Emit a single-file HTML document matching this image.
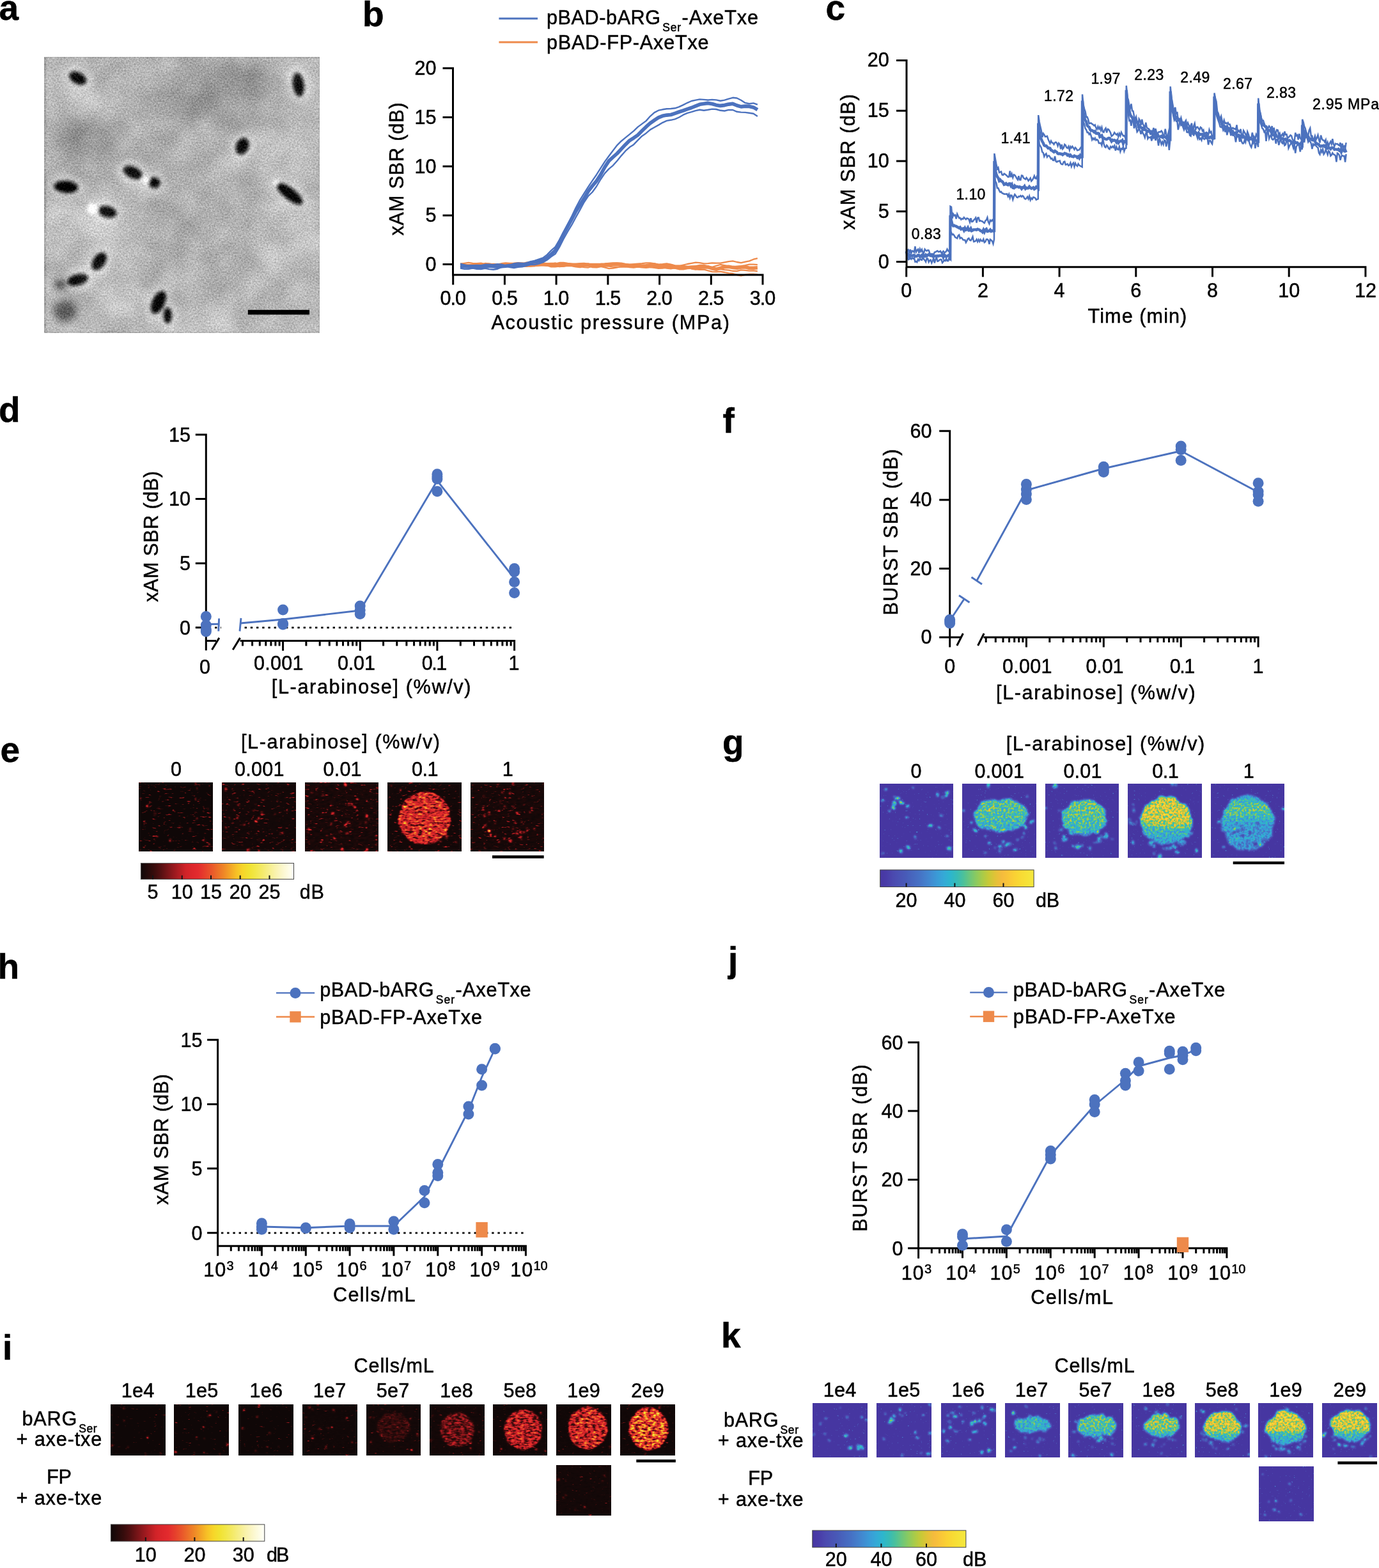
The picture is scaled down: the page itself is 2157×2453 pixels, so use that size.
<!DOCTYPE html>
<html><head><meta charset="utf-8"><title>Figure</title>
<style>html,body{margin:0;padding:0;background:#fff}svg{display:block}.t{stroke:#000;stroke-width:0.5px}</style>
</head><body>
<svg width="2157" height="2453" viewBox="0 0 2157 2453" font-family="'Liberation Sans', sans-serif" font-size="30.6" fill="#000">
<defs>
<filter id="fh" x="0" y="0" width="1" height="1" color-interpolation-filters="sRGB"><feTurbulence type="fractalNoise" baseFrequency="0.13 0.3" numOctaves="2" seed="1" result="n"/><feColorMatrix in="n" type="matrix" values="0 0 0 0 1 1.8 0 0 0 -0.5 0 0 0 0 0 0 0 0 0 1" result="nd"/><feColorMatrix in="n" type="matrix" values="0 0 0 0 0 0 0 0 0 0 0 3.2 0 0 -2.05 0 0 0 0 1" result="nb"/><feTurbulence type="fractalNoise" baseFrequency="0.07" numOctaves="2" seed="6" result="dn"/><feDisplacementMap in="SourceGraphic" in2="dn" scale="5" xChannelSelector="R" yChannelSelector="G" result="sd"/><feGaussianBlur in="sd" stdDeviation="1.0" result="s0"/><feColorMatrix in="s0" type="matrix" values="1 0 0 0 0 0 1 0 0 0 0 0 1 0 0 0 0 0 0 1" result="s"/><feBlend in="s" in2="nd" mode="multiply" result="p"/><feBlend in="p" in2="nb" mode="screen" result="c"/><feColorMatrix in="c" type="matrix" values="0.14 0.9 0.4 0 0.0 0.14 0.9 0.4 0 0.0 0.14 0.9 0.4 0 0.0 0 0 0 0 1" result="v"/><feComponentTransfer in="v"><feFuncR type="table" tableValues="0.06 0.116 0.172 0.229 0.318 0.414 0.511 0.604 0.695 0.786 0.849 0.871 0.891 0.899 0.907 0.916 0.925 0.934 0.945 0.958 0.97 0.976 0.959 0.941 0.947 0.955 0.963 0.969 0.975 0.981 0.988 0.994 1"/><feFuncG type="table" tableValues="0.03 0.036 0.042 0.049 0.06 0.072 0.085 0.099 0.115 0.131 0.144 0.153 0.169 0.228 0.287 0.355 0.43 0.505 0.584 0.668 0.752 0.827 0.863 0.899 0.907 0.915 0.925 0.938 0.95 0.962 0.975 0.988 1"/><feFuncB type="table" tableValues="0.03 0.036 0.042 0.049 0.065 0.084 0.102 0.119 0.135 0.151 0.164 0.172 0.179 0.175 0.172 0.166 0.16 0.154 0.15 0.15 0.15 0.154 0.177 0.199 0.286 0.376 0.469 0.566 0.662 0.755 0.83 0.905 0.98"/></feComponentTransfer></filter>
<filter id="fh2" x="0" y="0" width="1" height="1" color-interpolation-filters="sRGB"><feTurbulence type="fractalNoise" baseFrequency="0.15 0.32" numOctaves="2" seed="3" result="n"/><feColorMatrix in="n" type="matrix" values="0 0 0 0 1 1.8 0 0 0 -0.5 0 0 0 0 0 0 0 0 0 1" result="nd"/><feColorMatrix in="n" type="matrix" values="0 0 0 0 0 0 0 0 0 0 0 3.2 0 0 -2.25 0 0 0 0 1" result="nb"/><feTurbulence type="fractalNoise" baseFrequency="0.07" numOctaves="2" seed="8" result="dn"/><feDisplacementMap in="SourceGraphic" in2="dn" scale="4" xChannelSelector="R" yChannelSelector="G" result="sd"/><feGaussianBlur in="sd" stdDeviation="0.9" result="s0"/><feColorMatrix in="s0" type="matrix" values="1 0 0 0 0 0 1 0 0 0 0 0 1 0 0 0 0 0 0 1" result="s"/><feBlend in="s" in2="nd" mode="multiply" result="p"/><feBlend in="p" in2="nb" mode="screen" result="c"/><feColorMatrix in="c" type="matrix" values="0.14 0.9 0.36 0 0.0 0.14 0.9 0.36 0 0.0 0.14 0.9 0.36 0 0.0 0 0 0 0 1" result="v"/><feComponentTransfer in="v"><feFuncR type="table" tableValues="0.06 0.116 0.172 0.229 0.318 0.414 0.511 0.604 0.695 0.786 0.849 0.871 0.891 0.899 0.907 0.916 0.925 0.934 0.945 0.958 0.97 0.976 0.959 0.941 0.947 0.955 0.963 0.969 0.975 0.981 0.988 0.994 1"/><feFuncG type="table" tableValues="0.03 0.036 0.042 0.049 0.06 0.072 0.085 0.099 0.115 0.131 0.144 0.153 0.169 0.228 0.287 0.355 0.43 0.505 0.584 0.668 0.752 0.827 0.863 0.899 0.907 0.915 0.925 0.938 0.95 0.962 0.975 0.988 1"/><feFuncB type="table" tableValues="0.03 0.036 0.042 0.049 0.065 0.084 0.102 0.119 0.135 0.151 0.164 0.172 0.179 0.175 0.172 0.166 0.16 0.154 0.15 0.15 0.15 0.154 0.177 0.199 0.286 0.376 0.469 0.566 0.662 0.755 0.83 0.905 0.98"/></feComponentTransfer></filter>
<filter id="fp" x="0" y="0" width="1" height="1" color-interpolation-filters="sRGB"><feTurbulence type="fractalNoise" baseFrequency="0.3 0.3" numOctaves="2" seed="1" result="n"/><feColorMatrix in="n" type="matrix" values="0 0 0 0 1 3.0 0 0 0 -1.0 0 0 0 0 0 0 0 0 0 1" result="nd"/><feColorMatrix in="n" type="matrix" values="0 0 0 0 0 0 0 0 0 0 0 5 0 0 -3.6 0 0 0 0 1" result="nb"/><feTurbulence type="fractalNoise" baseFrequency="0.07" numOctaves="2" seed="6" result="dn"/><feDisplacementMap in="SourceGraphic" in2="dn" scale="10" xChannelSelector="R" yChannelSelector="G" result="sd"/><feGaussianBlur in="sd" stdDeviation="1.6" result="s0"/><feColorMatrix in="s0" type="matrix" values="1 0 0 0 0 0 1 0 0 0 0 0 1 0 0 0 0 0 0 1" result="s"/><feBlend in="s" in2="nd" mode="multiply" result="p"/><feBlend in="p" in2="nb" mode="screen" result="c"/><feColorMatrix in="c" type="matrix" values="0.72 0.5 0.4 0 0.0 0.72 0.5 0.4 0 0.0 0.72 0.5 0.4 0 0.0 0 0 0 0 1" result="v"/><feComponentTransfer in="v"><feFuncR type="table" tableValues="0.278 0.285 0.291 0.292 0.288 0.284 0.281 0.278 0.275 0.268 0.261 0.246 0.229 0.212 0.191 0.185 0.216 0.268 0.36 0.452 0.544 0.636 0.728 0.81 0.886 0.943 0.974 0.978 0.979 0.975 0.971 0.964 0.957"/><feFuncG type="table" tableValues="0.212 0.23 0.262 0.294 0.322 0.349 0.378 0.409 0.439 0.479 0.52 0.564 0.61 0.654 0.689 0.718 0.735 0.751 0.767 0.782 0.794 0.798 0.794 0.78 0.759 0.74 0.745 0.784 0.818 0.848 0.875 0.892 0.91"/><feFuncB type="table" tableValues="0.635 0.654 0.674 0.692 0.704 0.716 0.732 0.75 0.769 0.79 0.811 0.827 0.843 0.85 0.823 0.784 0.712 0.634 0.542 0.454 0.373 0.301 0.24 0.216 0.216 0.23 0.235 0.215 0.204 0.204 0.208 0.226 0.243"/></feComponentTransfer></filter>
<linearGradient id="gh1"><stop offset="0%" stop-color="#0f0808"/><stop offset="4.2%" stop-color="#220a0a"/><stop offset="8.3%" stop-color="#360c0c"/><stop offset="12.5%" stop-color="#510f11"/><stop offset="16.7%" stop-color="#721417"/><stop offset="20.8%" stop-color="#92181d"/><stop offset="25%" stop-color="#b11d22"/><stop offset="29.2%" stop-color="#d02328"/><stop offset="33.3%" stop-color="#dc262b"/><stop offset="37.5%" stop-color="#e32b2e"/><stop offset="41.7%" stop-color="#e63f2c"/><stop offset="45.8%" stop-color="#e9542b"/><stop offset="50%" stop-color="#ec6e29"/><stop offset="54.2%" stop-color="#ef8727"/><stop offset="58.3%" stop-color="#f3a326"/><stop offset="62.5%" stop-color="#f7c026"/><stop offset="66.7%" stop-color="#f7d629"/><stop offset="70.8%" stop-color="#f1e231"/><stop offset="75%" stop-color="#f2e749"/><stop offset="79.2%" stop-color="#f4ea68"/><stop offset="83.3%" stop-color="#f6ee88"/><stop offset="87.5%" stop-color="#f9f2a9"/><stop offset="91.7%" stop-color="#fbf6c7"/><stop offset="95.8%" stop-color="#fdfbe0"/><stop offset="100%" stop-color="#fffffa"/></linearGradient>
<linearGradient id="vg1" x1="0" y1="0" x2="0" y2="1"><stop offset="0" stop-color="#8c8c8c"/><stop offset="0.6" stop-color="#878787"/><stop offset="1" stop-color="#666666"/></linearGradient>
<linearGradient id="vg2" x1="0" y1="0" x2="0" y2="1"><stop offset="0" stop-color="#999999"/><stop offset="0.6" stop-color="#8c8c8c"/><stop offset="1" stop-color="#666666"/></linearGradient>
<linearGradient id="vg3" x1="0" y1="0" x2="0" y2="1"><stop offset="0" stop-color="#c2c2c2"/><stop offset="0.5" stop-color="#bdbdbd"/><stop offset="0.68" stop-color="#808080"/><stop offset="1" stop-color="#616161"/></linearGradient>
<linearGradient id="vg4" x1="0" y1="0" x2="0" y2="1"><stop offset="0" stop-color="#666666"/><stop offset="0.2" stop-color="#8f8f8f"/><stop offset="0.38" stop-color="#858585"/><stop offset="0.5" stop-color="#666666"/><stop offset="1" stop-color="#5c5c5c"/></linearGradient>
<linearGradient id="gp1"><stop offset="0%" stop-color="#4736a2"/><stop offset="4.2%" stop-color="#493ca8"/><stop offset="8.3%" stop-color="#4b49af"/><stop offset="12.5%" stop-color="#4a52b4"/><stop offset="16.7%" stop-color="#485bb8"/><stop offset="20.8%" stop-color="#4766be"/><stop offset="25%" stop-color="#4670c4"/><stop offset="29.2%" stop-color="#447ecb"/><stop offset="33.3%" stop-color="#408cd2"/><stop offset="37.5%" stop-color="#3a9cd7"/><stop offset="41.7%" stop-color="#34aad6"/><stop offset="45.8%" stop-color="#2db6cd"/><stop offset="50%" stop-color="#37bbb6"/><stop offset="54.2%" stop-color="#4cc19a"/><stop offset="58.3%" stop-color="#6cc67b"/><stop offset="62.5%" stop-color="#8bca5f"/><stop offset="66.7%" stop-color="#aacb48"/><stop offset="70.8%" stop-color="#c8c937"/><stop offset="75%" stop-color="#e2c237"/><stop offset="79.2%" stop-color="#f5bb3d"/><stop offset="83.3%" stop-color="#f9c538"/><stop offset="87.5%" stop-color="#fad134"/><stop offset="91.7%" stop-color="#f8db34"/><stop offset="95.8%" stop-color="#f6e238"/><stop offset="100%" stop-color="#f4e83e"/></linearGradient>
<linearGradient id="gh2"><stop offset="0%" stop-color="#0f0808"/><stop offset="4.2%" stop-color="#220a0a"/><stop offset="8.3%" stop-color="#360c0c"/><stop offset="12.5%" stop-color="#510f11"/><stop offset="16.7%" stop-color="#721417"/><stop offset="20.8%" stop-color="#92181d"/><stop offset="25%" stop-color="#b11d22"/><stop offset="29.2%" stop-color="#d02328"/><stop offset="33.3%" stop-color="#dc262b"/><stop offset="37.5%" stop-color="#e32b2e"/><stop offset="41.7%" stop-color="#e63f2c"/><stop offset="45.8%" stop-color="#e9542b"/><stop offset="50%" stop-color="#ec6e29"/><stop offset="54.2%" stop-color="#ef8727"/><stop offset="58.3%" stop-color="#f3a326"/><stop offset="62.5%" stop-color="#f7c026"/><stop offset="66.7%" stop-color="#f7d629"/><stop offset="70.8%" stop-color="#f1e231"/><stop offset="75%" stop-color="#f2e749"/><stop offset="79.2%" stop-color="#f4ea68"/><stop offset="83.3%" stop-color="#f6ee88"/><stop offset="87.5%" stop-color="#f9f2a9"/><stop offset="91.7%" stop-color="#fbf6c7"/><stop offset="95.8%" stop-color="#fdfbe0"/><stop offset="100%" stop-color="#fffffa"/></linearGradient>
<linearGradient id="kg4" x1="0" y1="0" x2="0" y2="1"><stop offset="0" stop-color="#808080"/><stop offset="1" stop-color="#6b6b6b"/></linearGradient>
<linearGradient id="kg5" x1="0" y1="0" x2="0" y2="1"><stop offset="0" stop-color="#949494"/><stop offset="0.6" stop-color="#8c8c8c"/><stop offset="1" stop-color="#666666"/></linearGradient>
<linearGradient id="kg6" x1="0" y1="0" x2="0" y2="1"><stop offset="0" stop-color="#a8a8a8"/><stop offset="0.6" stop-color="#9e9e9e"/><stop offset="1" stop-color="#6b6b6b"/></linearGradient>
<linearGradient id="kg7" x1="0" y1="0" x2="0" y2="1"><stop offset="0" stop-color="#c2c2c2"/><stop offset="0.55" stop-color="#b8b8b8"/><stop offset="0.8" stop-color="#858585"/><stop offset="1" stop-color="#666666"/></linearGradient>
<linearGradient id="kg8" x1="0" y1="0" x2="0" y2="1"><stop offset="0" stop-color="#cccccc"/><stop offset="0.5" stop-color="#c4c4c4"/><stop offset="0.68" stop-color="#808080"/><stop offset="1" stop-color="#666666"/></linearGradient>
<linearGradient id="kg9" x1="0" y1="0" x2="0" y2="1"><stop offset="0" stop-color="#c7c7c7"/><stop offset="0.55" stop-color="#bfbfbf"/><stop offset="0.75" stop-color="#808080"/><stop offset="1" stop-color="#666666"/></linearGradient>
<linearGradient id="gp2"><stop offset="0%" stop-color="#4736a2"/><stop offset="4.2%" stop-color="#493ca8"/><stop offset="8.3%" stop-color="#4b49af"/><stop offset="12.5%" stop-color="#4a52b4"/><stop offset="16.7%" stop-color="#485bb8"/><stop offset="20.8%" stop-color="#4766be"/><stop offset="25%" stop-color="#4670c4"/><stop offset="29.2%" stop-color="#447ecb"/><stop offset="33.3%" stop-color="#408cd2"/><stop offset="37.5%" stop-color="#3a9cd7"/><stop offset="41.7%" stop-color="#34aad6"/><stop offset="45.8%" stop-color="#2db6cd"/><stop offset="50%" stop-color="#37bbb6"/><stop offset="54.2%" stop-color="#4cc19a"/><stop offset="58.3%" stop-color="#6cc67b"/><stop offset="62.5%" stop-color="#8bca5f"/><stop offset="66.7%" stop-color="#aacb48"/><stop offset="70.8%" stop-color="#c8c937"/><stop offset="75%" stop-color="#e2c237"/><stop offset="79.2%" stop-color="#f5bb3d"/><stop offset="83.3%" stop-color="#f9c538"/><stop offset="87.5%" stop-color="#fad134"/><stop offset="91.7%" stop-color="#f8db34"/><stop offset="95.8%" stop-color="#f6e238"/><stop offset="100%" stop-color="#f4e83e"/></linearGradient>
<filter id="fa" x="0" y="0" width="1" height="1" color-interpolation-filters="sRGB"><feTurbulence type="fractalNoise" baseFrequency="0.4" numOctaves="2" seed="7" result="n"/><feColorMatrix in="n" type="matrix" values="0.38 0 0 0 0 0.38 0 0 0 0 0.38 0 0 0 0 0 0 0 0 1" result="n1"/><feComposite in="SourceGraphic" in2="n1" operator="arithmetic" k1="0" k2="1" k3="1" k4="-0.19" result="a1"/><feTurbulence type="fractalNoise" baseFrequency="0.022" numOctaves="2" seed="11" result="m"/><feColorMatrix in="m" type="matrix" values="0.2 0 0 0 0 0.2 0 0 0 0 0.2 0 0 0 0 0 0 0 0 1" result="m1"/><feComposite in="a1" in2="m1" operator="arithmetic" k1="0" k2="1" k3="1" k4="-0.1"/></filter>
<filter id="fb1" x="-0.2" y="-0.2" width="1.4" height="1.4"><feGaussianBlur stdDeviation="16"/></filter>
<filter id="fb2" x="-0.2" y="-0.2" width="1.4" height="1.4"><feGaussianBlur stdDeviation="6"/></filter>
<filter id="fb3" x="-0.2" y="-0.2" width="1.4" height="1.4"><feGaussianBlur stdDeviation="2.9"/></filter>
<clipPath id="ca"><rect x="69.4" y="89.4" width="430.6" height="430.9"/></clipPath>
</defs>
<rect width="2157" height="2453" fill="#fff"/>
<text x="-1.5" y="31" font-weight="bold" font-size="55" class="t">a</text>
<text x="567" y="41" font-weight="bold" font-size="55" class="t">b</text>
<text x="1291.5" y="31.3" font-weight="bold" font-size="55" class="t">c</text>
<text x="-2" y="660" font-weight="bold" font-size="55" class="t">d</text>
<text x="0.5" y="1192" font-weight="bold" font-size="55" class="t">e</text>
<text x="1130.5" y="677" font-weight="bold" font-size="55" class="t">f</text>
<text x="1130" y="1180" font-weight="bold" font-size="55" class="t">g</text>
<text x="-3.5" y="1531.4" font-weight="bold" font-size="55" class="t">h</text>
<text x="4" y="2127" font-weight="bold" font-size="55" class="t">i</text>
<text x="1139" y="1520" font-weight="bold" font-size="55" class="t">j</text>
<text x="1128" y="2108" font-weight="bold" font-size="55" class="t">k</text>
<path d="M720,412.7 726.5,411.8 732.9,410.8 739.4,411.9 745.8,412.1 752.3,411.6 758.7,413.2 765.2,413.7 771.7,412.9 778.1,413.5 784.6,414.1 791,413.5 797.5,412.7 803.9,412.9 810.4,414.2 816.9,413.4 823.3,410.6 829.8,410.7 836.2,412.5 842.7,412.8 849.2,413.3 855.6,414 862.1,413.6 868.5,412.5 875,411 881.4,410.9 887.9,412 894.4,412.6 900.8,412.6 907.3,412.1 913.7,412 920.2,412.8 926.6,412.9 933.1,412.8 939.6,412.7 946,412.4 952.5,411.8 958.9,411.5 965.4,411.5 971.8,411.6 978.3,412.8 984.8,413.7 991.2,413.1 997.7,412.6 1004.1,412.1 1010.6,411.3 1017.1,411.3 1023.5,412.5 1030,413.6 1036.4,413.2 1042.9,412.3 1049.3,413.7 1055.8,415.7 1062.3,416 1068.7,414.5 1075.2,413 1081.6,411.9 1088.1,410.7 1094.5,411.1 1101,412.4 1107.5,412.2 1113.9,411.3 1120.4,411.6 1126.8,411.7 1133.3,410.4 1139.7,409.1 1146.2,408.4 1152.7,410 1159.1,411.1 1165.6,409.7 1172,408.4 1178.5,405.7 1184.9,404.1" fill="none" stroke="#ee8a4b" stroke-width="2.3" stroke-linejoin="round"/>
<path d="M720,417.2 726.5,416.6 732.9,417.1 739.4,419.2 745.8,419.6 752.3,416.9 758.7,416.3 765.2,417.2 771.7,416.4 778.1,415.3 784.6,414.3 791,415.2 797.5,416.4 803.9,415.8 810.4,416.1 816.9,416.7 823.3,416.8 829.8,416.6 836.2,415.8 842.7,415.5 849.2,415.1 855.6,415.4 862.1,417.4 868.5,417.4 875,416.7 881.4,416.7 887.9,415.5 894.4,415.5 900.8,416.5 907.3,416.9 913.7,418.2 920.2,418.5 926.6,416.6 933.1,415.9 939.6,416.8 946,418.5 952.5,420.1 958.9,419.7 965.4,418.4 971.8,417 978.3,416.5 984.8,418.1 991.2,418.5 997.7,417.5 1004.1,418.4 1010.6,418.9 1017.1,418.1 1023.5,418.8 1030,419.8 1036.4,419.6 1042.9,418.3 1049.3,417.8 1055.8,418.7 1062.3,419.3 1068.7,418.9 1075.2,417.6 1081.6,418.8 1088.1,421.4 1094.5,421.8 1101,421.7 1107.5,423.3 1113.9,425.1 1120.4,425.3 1126.8,424.9 1133.3,426 1139.7,427.4 1146.2,428 1152.7,430 1159.1,431.3 1165.6,429.8 1172,428.8 1178.5,429 1184.9,429.6" fill="none" stroke="#ee8a4b" stroke-width="2.3" stroke-linejoin="round"/>
<path d="M720,412.8 726.5,413.8 732.9,414.2 739.4,414.1 745.8,414.7 752.3,414.5 758.7,414.9 765.2,415.3 771.7,413.6 778.1,413.2 784.6,414.3 791,414.1 797.5,413.6 803.9,413.9 810.4,414.9 816.9,415 823.3,413.8 829.8,413.1 836.2,414.1 842.7,414.2 849.2,412.6 855.6,412.7 862.1,412.8 868.5,411.7 875,413.3 881.4,415.2 887.9,415.9 894.4,415.6 900.8,414 907.3,414.1 913.7,414.3 920.2,414 926.6,414.8 933.1,415.3 939.6,416.2 946,416.4 952.5,415 958.9,412.5 965.4,412 971.8,413.4 978.3,413.9 984.8,414 991.2,414.5 997.7,415.9 1004.1,417.7 1010.6,417.2 1017.1,414.2 1023.5,412.3 1030,413.8 1036.4,414.5 1042.9,413.5 1049.3,414.2 1055.8,415.3 1062.3,415.6 1068.7,416 1075.2,416.9 1081.6,417.1 1088.1,416.1 1094.5,415 1101,414.8 1107.5,416.5 1113.9,417.8 1120.4,415.8 1126.8,414 1133.3,415.2 1139.7,416.8 1146.2,417.1 1152.7,416.6 1159.1,416.1 1165.6,415.1 1172,413.6 1178.5,413.7 1184.9,414.1" fill="none" stroke="#ee8a4b" stroke-width="2.3" stroke-linejoin="round"/>
<path d="M720,415.6 726.5,416 732.9,418.2 739.4,419.6 745.8,417.9 752.3,413.9 758.7,412 765.2,412.5 771.7,413.6 778.1,415.2 784.6,415.6 791,415.1 797.5,416.3 803.9,417.2 810.4,416.9 816.9,416.3 823.3,415.4 829.8,415.5 836.2,416 842.7,415.2 849.2,414.7 855.6,415.6 862.1,415.8 868.5,416 875,417.2 881.4,416.7 887.9,414.8 894.4,414.2 900.8,415.4 907.3,415.7 913.7,414.9 920.2,415.5 926.6,416.1 933.1,416 939.6,416.4 946,416.6 952.5,416.7 958.9,417.6 965.4,417.7 971.8,417.6 978.3,417.7 984.8,417 991.2,416.5 997.7,416.7 1004.1,416.7 1010.6,415.6 1017.1,414.5 1023.5,416.7 1030,419.2 1036.4,418.6 1042.9,419.6 1049.3,420.3 1055.8,419.2 1062.3,418.5 1068.7,417.1 1075.2,417.7 1081.6,420.5 1088.1,421.5 1094.5,420 1101,419.1 1107.5,419.3 1113.9,419.2 1120.4,419.8 1126.8,421.1 1133.3,422.1 1139.7,422.6 1146.2,424 1152.7,424.2 1159.1,422.3 1165.6,422.9 1172,423.7 1178.5,423.3 1184.9,424.3" fill="none" stroke="#ee8a4b" stroke-width="2.3" stroke-linejoin="round"/>
<path d="M720,415.2 726.5,415.8 732.9,416 739.4,415.6 745.8,415.5 752.3,416.1 758.7,416.5 765.2,416 771.7,415.5 778.1,415.2 784.6,413.9 791,413.1 797.5,413.6 803.9,413.3 810.4,412.8 816.9,413 823.3,413.6 829.8,414.7 836.2,414.5 842.7,413.3 849.2,413.4 855.6,413.8 862.1,413.5 868.5,413.5 875,414 881.4,414.5 887.9,414.4 894.4,414.5 900.8,415.7 907.3,416.5 913.7,414.7 920.2,414 926.6,416.4 933.1,416.8 939.6,415.4 946,414.5 952.5,413.8 958.9,413.5 965.4,413.3 971.8,414 978.3,415.4 984.8,415.9 991.2,415.8 997.7,415.6 1004.1,416.1 1010.6,415.8 1017.1,414.7 1023.5,415.4 1030,416.1 1036.4,416.1 1042.9,417 1049.3,417.5 1055.8,418.1 1062.3,419.6 1068.7,419.8 1075.2,418.5 1081.6,418.1 1088.1,418 1094.5,417.7 1101,417.6 1107.5,417.8 1113.9,419.9 1120.4,421.2 1126.8,419.4 1133.3,417.6 1139.7,417.3 1146.2,418.4 1152.7,419.2 1159.1,418 1165.6,417.7 1172,419.2 1178.5,419.3 1184.9,418.9" fill="none" stroke="#ee8a4b" stroke-width="5.6" stroke-linejoin="round"/>
<path d="M720,412.7 726.5,414.3 732.9,415.7 739.4,415.2 745.8,415 752.3,415.2 758.7,413.8 765.2,413.7 771.7,414.2 778.1,413.2 784.6,413.6 791,415.4 797.5,414.9 803.9,412.4 810.4,411.4 816.9,411.9 823.3,411.7 829.8,410.2 836.2,408 842.7,405.6 849.2,403.5 855.6,398.6 862.1,391.9 868.5,386.3 875,375.4 881.4,363.4 887.9,350.9 894.4,338.3 900.8,324.7 907.3,312.6 913.7,302.4 920.2,292.2 926.6,282.7 933.1,273.2 939.6,262.9 946,252.9 952.5,244 958.9,235.6 965.4,227.1 971.8,220.7 978.3,215.4 984.8,210.1 991.2,204.8 997.7,198.6 1004.1,193.9 1010.6,189.1 1017.1,181.8 1023.5,176.1 1030,172.7 1036.4,171.3 1042.9,170.2 1049.3,170 1055.8,169.3 1062.3,167.2 1068.7,164.1 1075.2,160.8 1081.6,158 1088.1,156.6 1094.5,155.4 1101,155.9 1107.5,156.5 1113.9,155.9 1120.4,156.4 1126.8,157.7 1133.3,156.6 1139.7,154.6 1146.2,152.8 1152.7,153.5 1159.1,156.7 1165.6,160.9 1172,162.2 1178.5,161.4 1184.9,163.7" fill="none" stroke="#4c72be" stroke-width="2.4" stroke-linejoin="round"/>
<path d="M720,419.6 726.5,420.7 732.9,420.7 739.4,419.6 745.8,420.8 752.3,421 758.7,419.9 765.2,421.1 771.7,421.8 778.1,420.7 784.6,418 791,416.3 797.5,418 803.9,419.1 810.4,417.9 816.9,417.3 823.3,415.9 829.8,414.1 836.2,414 842.7,412.6 849.2,410.4 855.6,406.7 862.1,401.5 868.5,397.3 875,386.6 881.4,373.9 887.9,362.4 894.4,351.7 900.8,339.8 907.3,328.2 913.7,316.3 920.2,306.7 926.6,300.5 933.1,291.5 939.6,280.5 946,271.1 952.5,264.1 958.9,258.8 965.4,251.5 971.8,243.6 978.3,236.2 984.8,230.3 991.2,226.2 997.7,219.4 1004.1,212.9 1010.6,208.4 1017.1,202.9 1023.5,199.2 1030,195.6 1036.4,191.8 1042.9,188.9 1049.3,187.8 1055.8,186.3 1062.3,183.5 1068.7,179.7 1075.2,176.8 1081.6,175.2 1088.1,173.1 1094.5,171.8 1101,172.8 1107.5,171.8 1113.9,170.6 1120.4,171 1126.8,172.8 1133.3,173.5 1139.7,171.9 1146.2,172 1152.7,174.8 1159.1,175.6 1165.6,175.9 1172,176.7 1178.5,177.7 1184.9,181.9" fill="none" stroke="#4c72be" stroke-width="2.4" stroke-linejoin="round"/>
<path d="M720,416.4 726.5,416.6 732.9,417 739.4,416.7 745.8,417.3 752.3,418.3 758.7,417.5 765.2,416.3 771.7,416.6 778.1,417.2 784.6,416.7 791,416.2 797.5,415.5 803.9,415.3 810.4,415.3 816.9,414.5 823.3,413 829.8,410.8 836.2,409.7 842.7,408.8 849.2,407 855.6,403.3 862.1,397.8 868.5,392 875,379.5 881.4,366.2 887.9,354.3 894.4,342.6 900.8,330.5 907.3,320.5 913.7,310.3 920.2,299.1 926.6,290.8 933.1,283.1 939.6,273.1 946,261.5 952.5,251.6 958.9,245.8 965.4,240 971.8,233.1 978.3,226.2 984.8,219.8 991.2,215.8 997.7,211.2 1004.1,204.8 1010.6,198.4 1017.1,192.6 1023.5,188.1 1030,183.9 1036.4,181.3 1042.9,180.1 1049.3,179.5 1055.8,177.3 1062.3,175 1068.7,173 1075.2,170.7 1081.6,168.5 1088.1,165.8 1094.5,163.3 1101,162.2 1107.5,161.4 1113.9,162.5 1120.4,164.4 1126.8,165.4 1133.3,164.6 1139.7,163.1 1146.2,162.3 1152.7,165 1159.1,166.9 1165.6,166.1 1172,166.4 1178.5,167.9 1184.9,171.6" fill="none" stroke="#4c72be" stroke-width="5.6" stroke-linejoin="round"/>
<path d="M708.5,105.3V430M692.5,106.8H708.5M692.5,183.5H708.5M692.5,260.2H708.5M692.5,336.9H708.5M692.5,413.6H708.5M707,430H1194.5M708.7,430V445.5M789.4,430V445.5M870.1,430V445.5M950.9,430V445.5M1031.6,430V445.5M1112.3,430V445.5M1193,430V445.5" fill="none" stroke="#000" stroke-width="3"/>
<text x="682.5" y="117.1" text-anchor="end" class="t">20</text>
<text x="682.5" y="193.8" text-anchor="end" class="t">15</text>
<text x="682.5" y="270.5" text-anchor="end" class="t">10</text>
<text x="682.5" y="347.2" text-anchor="end" class="t">5</text>
<text x="682.5" y="423.9" text-anchor="end" class="t">0</text>
<text x="708.7" y="477" text-anchor="middle" textLength="40.5" lengthAdjust="spacing" class="t">0.0</text>
<text x="789.4" y="477" text-anchor="middle" textLength="40.5" lengthAdjust="spacing" class="t">0.5</text>
<text x="870.1" y="477" text-anchor="middle" textLength="40.5" lengthAdjust="spacing" class="t">1.0</text>
<text x="950.9" y="477" text-anchor="middle" textLength="40.5" lengthAdjust="spacing" class="t">1.5</text>
<text x="1031.6" y="477" text-anchor="middle" textLength="40.5" lengthAdjust="spacing" class="t">2.0</text>
<text x="1112.3" y="477" text-anchor="middle" textLength="40.5" lengthAdjust="spacing" class="t">2.5</text>
<text x="1193" y="477" text-anchor="middle" textLength="40.5" lengthAdjust="spacing" class="t">3.0</text>
<text x="768.4" y="514.8" textLength="372.6" lengthAdjust="spacing" class="t">Acoustic pressure (MPa)</text>
<text class="t" transform="translate(631.3 368.6) rotate(-90)" textLength="208.3" lengthAdjust="spacing">xAM SBR (dB)</text>
<line x1="780.4" y1="28.9" x2="841" y2="28.9" stroke="#4c72be" stroke-width="3"/>
<line x1="780.4" y1="65.9" x2="841" y2="65.9" stroke="#ee8a4b" stroke-width="3"/>
<text x="855" y="37.8" textLength="178.1" lengthAdjust="spacing" class="t">pBAD-bARG</text>
<text x="1036.2" y="49" font-size="17.5" textLength="29" lengthAdjust="spacing" class="t">Ser</text>
<text x="1066.5" y="37.8" textLength="119.5" lengthAdjust="spacing" class="t">-AxeTxe</text>
<text x="855" y="76.8" textLength="253.6" lengthAdjust="spacing" class="t">pBAD-FP-AxeTxe</text>
<path d="M1417.7,389 1419.2,392.1 1420.7,390.8 1422.3,396.3 1423.8,390.4 1425.3,396.3 1426.8,392.5 1428.4,392.9 1429.9,394.7 1431.4,385.5 1432.9,394.3 1434.4,391.6 1436,390 1437.5,395.9 1439,389.5 1440.5,393.2 1442,390.3 1443.6,395.2 1445.1,395.5 1446.6,389.9 1448.1,391.7 1449.7,392.6 1451.2,391.3 1452.7,391.6 1454.2,395.9 1455.7,398.6 1457.3,397.2 1458.8,397.5 1460.3,398.6 1461.8,394.6 1463.4,394.3 1464.9,393.1 1466.4,392.5 1467.9,394 1469.4,393.7 1471,392.8 1472.5,395.6 1474,394.8 1475.5,393 1477.1,394.8 1478.6,394.5 1480.1,393.3 1481.6,389.7 1483.1,392.2 1484.7,393.9 1486.2,394.5 1486.5,322.9 1488,323.8 1489.6,341.7 1491.1,334.8 1492.6,337.1 1494.1,336.5 1495.7,342.3 1497.2,334.7 1498.7,338 1500.2,341.1 1501.7,340.9 1503.3,343.5 1504.8,341.9 1506.3,342.6 1507.8,340.1 1509.4,341.9 1510.9,343.2 1512.4,341.5 1513.9,341.9 1515.4,342.9 1517,347.5 1518.5,341.2 1520,346.8 1521.5,346.6 1523.1,344.4 1524.6,342.9 1526.1,340.7 1527.6,348.6 1529.1,340.7 1530.7,340.4 1532.2,345.7 1533.7,345.1 1535.2,346.1 1536.7,346.2 1538.3,348.1 1539.8,349 1541.3,345.3 1542.8,344.2 1544.4,340.2 1545.9,347.4 1547.4,350.2 1548.9,344.5 1550.4,346.1 1552,344.1 1553.5,346 1555,348.2 1555.4,240.1 1556.9,248.9 1558.4,257 1559.9,264.2 1561.4,262.2 1563,269.9 1564.5,269.1 1566,268.4 1567.5,273.4 1569.1,273.9 1570.6,271.7 1572.1,272.6 1573.6,273.7 1575.1,275.1 1576.7,277 1578.2,276.7 1579.7,267.5 1581.2,277.2 1582.7,272.2 1584.3,277.8 1585.8,273.2 1587.3,273.9 1588.8,276.1 1590.4,279.1 1591.9,281.2 1593.4,275.4 1594.9,281.3 1596.4,281.4 1598,274.5 1599.5,274.8 1601,278.5 1602.5,279.4 1604.1,280.5 1605.6,278.1 1607.1,280.2 1608.6,282.9 1610.1,281.1 1611.7,278.6 1613.2,283.3 1614.7,281.8 1616.2,279.1 1617.8,275.2 1619.3,279 1620.8,279.4 1622.3,274.7 1623.8,282.3 1624.2,180.1 1625.7,190.7 1627.2,197.9 1628.7,204.1 1630.3,215 1631.8,208.8 1633.3,210.7 1634.8,213.8 1636.4,213.6 1637.9,213 1639.4,217.5 1640.9,221.1 1642.4,224.3 1644,220.5 1645.5,223.3 1647,223.7 1648.5,225.9 1650.1,223 1651.6,222.5 1653.1,223.9 1654.6,228.4 1656.1,223.9 1657.7,225.8 1659.2,233.3 1660.7,226 1662.2,233.1 1663.8,231.2 1665.3,226 1666.8,227.3 1668.3,230.9 1669.8,231.8 1671.4,229 1672.9,234.7 1674.4,229.3 1675.9,231.3 1677.4,229 1679,231.3 1680.5,233.9 1682,230.9 1683.5,232.4 1685.1,235.3 1686.6,234.8 1688.1,234.5 1689.6,232 1691.1,230.3 1692.7,232.4 1693,147.5 1694.5,163.6 1696.1,170.3 1697.6,174.5 1699.1,183.3 1700.6,183 1702.1,186.9 1703.7,193.3 1705.2,192.8 1706.7,192.5 1708.2,193.9 1709.8,194.9 1711.3,196.6 1712.8,195.3 1714.3,199.8 1715.8,202.4 1717.4,198 1718.9,201.7 1720.4,199 1721.9,203.9 1723.4,199.2 1725,206.3 1726.5,206.9 1728,202.7 1729.5,200.5 1731.1,207.5 1732.6,202 1734.1,202.6 1735.6,204.9 1737.1,207.8 1738.7,213.1 1740.2,211.9 1741.7,210.3 1743.2,207.3 1744.8,209.4 1746.3,210.8 1747.8,209.2 1749.3,213.8 1750.8,208.9 1752.4,212.5 1753.9,207 1755.4,210 1756.9,212.5 1758.4,212.1 1760,215 1761.5,210.6 1761.8,133.9 1763.4,152.3 1764.9,156.3 1766.4,165.7 1767.9,169.1 1769.4,162.5 1771,173.5 1772.5,173.8 1774,181.8 1775.5,187.7 1777.1,183.1 1778.6,190.8 1780.1,200.5 1781.6,186 1783.1,188.5 1784.7,196 1786.2,186.8 1787.7,194 1789.2,196.8 1790.8,200 1792.3,191.7 1793.8,199.7 1795.3,200.8 1796.8,201.5 1798.4,203.7 1799.9,208.5 1801.4,205 1802.9,206.4 1804.4,200 1806,209.5 1807.5,201.3 1809,207.2 1810.5,209 1812.1,206.7 1813.6,206.3 1815.1,206.4 1816.6,204.8 1818.1,206.8 1819.7,215 1821.2,211.6 1822.7,201.7 1824.2,209.7 1825.8,219.9 1827.3,209.1 1828.8,202.6 1830.3,205.2 1830.7,135.3 1832.2,152 1833.7,159.6 1835.2,168.9 1836.8,174.3 1838.3,167.8 1839.8,179.2 1841.3,175 1842.8,188.3 1844.4,186.5 1845.9,189.8 1847.4,184.4 1848.9,190.5 1850.4,191.9 1852,194.4 1853.5,190.9 1855,188.4 1856.5,196.5 1858.1,192.2 1859.6,196 1861.1,199.6 1862.6,196.3 1864.1,192.8 1865.7,211 1867.2,197.2 1868.7,193.2 1870.2,202.5 1871.8,199 1873.3,198.7 1874.8,201.3 1876.3,203.1 1877.8,199 1879.4,200.3 1880.9,204.9 1882.4,203.3 1883.9,210.7 1885.5,207.8 1887,206.9 1888.5,208.1 1890,211.2 1891.5,203 1893.1,207.4 1894.6,206 1896.1,215.3 1897.6,212.1 1899.1,213.1 1899.5,145.5 1901,153.9 1902.5,158.8 1904.1,174.4 1905.6,177.2 1907.1,182.5 1908.6,186.3 1910.1,182 1911.7,189.5 1913.2,193.9 1914.7,188.1 1916.2,193.1 1917.8,192.3 1919.3,193.7 1920.8,192 1922.3,194.8 1923.8,194.6 1925.4,200.1 1926.9,201.2 1928.4,200 1929.9,201.5 1931.5,201.3 1933,202.7 1934.5,195.5 1936,206.7 1937.5,204.4 1939.1,206.6 1940.6,202 1942.1,211.8 1943.6,214.5 1945.1,204.3 1946.7,206.9 1948.2,209.8 1949.7,214.5 1951.2,206 1952.8,210.1 1954.3,215.1 1955.8,215 1957.3,216.1 1958.8,207.4 1960.4,214.7 1961.9,218.8 1963.4,217.2 1964.9,210 1966.5,212.4 1968,218.5 1968.3,153.5 1969.8,171.9 1971.4,176.4 1972.9,184.5 1974.4,188.6 1975.9,188.6 1977.5,193.3 1979,197.4 1980.5,200.3 1982,199.8 1983.5,200.2 1985.1,197.2 1986.6,199.2 1988.1,204.5 1989.6,197.1 1991.1,208.3 1992.7,199.7 1994.2,210.1 1995.7,207.3 1997.2,203.1 1998.8,203.7 2000.3,212.1 2001.8,208.8 2003.3,214.7 2004.8,211.4 2006.4,209.2 2007.9,214.1 2009.4,205.7 2010.9,210.6 2012.5,210.3 2014,216.3 2015.5,214.9 2017,213.4 2018.5,211.4 2020.1,212.5 2021.6,217.8 2023.1,220 2024.6,221.9 2026.2,207.6 2027.7,212.3 2029.2,211.2 2030.7,218.6 2032.2,209.2 2033.8,216.2 2035.3,217.6 2036.8,221.2 2037.1,186.8 2038.7,191.2 2040.2,197.9 2041.7,201 2043.2,209 2044.8,213.6 2046.3,211.2 2047.8,203.7 2049.3,200.5 2050.8,212.9 2052.4,212.6 2053.9,219.1 2055.4,217.7 2056.9,212.7 2058.5,218.5 2060,215.5 2061.5,211.3 2063,218.3 2064.5,223.3 2066.1,211.6 2067.6,216.9 2069.1,219.3 2070.6,219.4 2072.2,222.3 2073.7,218.9 2075.2,228.6 2076.7,223 2078.2,228.6 2079.8,224.1 2081.3,221.4 2082.8,225.4 2084.3,217.3 2085.8,225.5 2087.4,228.7 2088.9,224.6 2090.4,225.3 2091.9,225.1 2093.5,226.7 2095,227.6 2096.5,223.2 2098,234.8 2099.5,224.5 2101.1,230.6 2102.6,228.7 2104.1,232.4 2105.6,223.1" fill="none" stroke="#4c72be" stroke-width="2.5" stroke-linejoin="miter"/>
<path d="M1417.7,405.9 1419.2,403.5 1420.7,406.1 1422.3,405.2 1423.8,403.2 1425.3,405.3 1426.8,403.4 1428.4,404.6 1429.9,403.1 1431.4,409.5 1432.9,408.9 1434.4,410.1 1436,405.6 1437.5,407.6 1439,404.7 1440.5,406.3 1442,406.7 1443.6,401.7 1445.1,405.6 1446.6,407.2 1448.1,409.6 1449.7,404.1 1451.2,404.7 1452.7,409.9 1454.2,407.5 1455.7,406.6 1457.3,411.3 1458.8,407.9 1460.3,403.7 1461.8,411.3 1463.4,406 1464.9,402.4 1466.4,408.8 1467.9,408.4 1469.4,406.7 1471,405.9 1472.5,406.2 1474,411 1475.5,409.2 1477.1,407 1478.6,408 1480.1,404.4 1481.6,408 1483.1,408.2 1484.7,402.6 1486.2,407.4 1486.5,361 1488,363.7 1489.6,367.2 1491.1,366.6 1492.6,368.4 1494.1,371.2 1495.7,372 1497.2,372.9 1498.7,368.7 1500.2,367.4 1501.7,373 1503.3,371.8 1504.8,372.6 1506.3,375.1 1507.8,375.4 1509.4,375.5 1510.9,379.3 1512.4,376.6 1513.9,373.7 1515.4,372.7 1517,375.7 1518.5,376.2 1520,373.8 1521.5,370.3 1523.1,378 1524.6,377.7 1526.1,376.9 1527.6,374.5 1529.1,378.1 1530.7,374.8 1532.2,377.9 1533.7,374.7 1535.2,377 1536.7,377.3 1538.3,374.2 1539.8,379.3 1541.3,378.3 1542.8,374.5 1544.4,374.4 1545.9,375.9 1547.4,381.9 1548.9,374.6 1550.4,375.6 1552,377.3 1553.5,381.4 1555,374.4 1555.4,272.3 1556.9,283.6 1558.4,286.3 1559.9,294.3 1561.4,294.3 1563,298.1 1564.5,300.6 1566,299.8 1567.5,302.2 1569.1,302.7 1570.6,303.6 1572.1,303.4 1573.6,303.8 1575.1,303.3 1576.7,307.3 1578.2,303.9 1579.7,309.7 1581.2,305.4 1582.7,305.8 1584.3,312.2 1585.8,307.5 1587.3,304.2 1588.8,306 1590.4,308.7 1591.9,309 1593.4,307.1 1594.9,307.6 1596.4,306.1 1598,307.9 1599.5,306.2 1601,307.6 1602.5,310.6 1604.1,311.4 1605.6,310.2 1607.1,307.9 1608.6,311.2 1610.1,306.9 1611.7,313.1 1613.2,309.9 1614.7,311.6 1616.2,308.5 1617.8,309 1619.3,309.8 1620.8,312.6 1622.3,311.7 1623.8,311.2 1624.2,212.5 1625.7,225.8 1627.2,228.4 1628.7,230.9 1630.3,237.8 1631.8,239 1633.3,244.9 1634.8,241.8 1636.4,240.3 1637.9,245.7 1639.4,243.6 1640.9,243.5 1642.4,245.6 1644,248.5 1645.5,247.7 1647,250.8 1648.5,250.9 1650.1,244.5 1651.6,252.5 1653.1,253.5 1654.6,252 1656.1,252.2 1657.7,251.5 1659.2,255.8 1660.7,257 1662.2,257.2 1663.8,253.2 1665.3,252.7 1666.8,257.7 1668.3,257.4 1669.8,256.5 1671.4,259.1 1672.9,258.2 1674.4,254.8 1675.9,260.5 1677.4,256.7 1679,254.8 1680.5,260.7 1682,255.4 1683.5,258.3 1685.1,259.8 1686.6,256.4 1688.1,258.6 1689.6,259.5 1691.1,260.4 1692.7,261.2 1693,180.6 1694.5,190.5 1696.1,194.4 1697.6,201.2 1699.1,202.9 1700.6,207.1 1702.1,207 1703.7,210.2 1705.2,208.5 1706.7,212.5 1708.2,218.8 1709.8,216.3 1711.3,218.3 1712.8,215.9 1714.3,219.4 1715.8,218.3 1717.4,219.5 1718.9,223.9 1720.4,223.9 1721.9,223.7 1723.4,227.3 1725,216.7 1726.5,224.6 1728,229.7 1729.5,230.6 1731.1,227.2 1732.6,229 1734.1,232.4 1735.6,233.3 1737.1,229.3 1738.7,230.9 1740.2,229 1741.7,230.7 1743.2,227.9 1744.8,235.6 1746.3,229.7 1747.8,233.5 1749.3,234.1 1750.8,229.5 1752.4,237 1753.9,232.5 1755.4,233.4 1756.9,229.6 1758.4,236.5 1760,232.1 1761.5,231.9 1761.8,160 1763.4,170.8 1764.9,178.7 1766.4,188.9 1767.9,188.1 1769.4,196.9 1771,186.5 1772.5,188.5 1774,200.8 1775.5,191 1777.1,198.8 1778.6,206.3 1780.1,204.3 1781.6,200 1783.1,204.3 1784.7,209.9 1786.2,203.4 1787.7,208.5 1789.2,210.9 1790.8,215.2 1792.3,208.4 1793.8,207.9 1795.3,217.1 1796.8,214.7 1798.4,215.4 1799.9,214.2 1801.4,220.4 1802.9,207.6 1804.4,215.8 1806,213.7 1807.5,219.7 1809,209.5 1810.5,217.3 1812.1,227.8 1813.6,215.9 1815.1,221 1816.6,225.9 1818.1,221.9 1819.7,226 1821.2,219.3 1822.7,220 1824.2,229.2 1825.8,220.5 1827.3,219.1 1828.8,235 1830.3,218.5 1830.7,155.8 1832.2,166.3 1833.7,170.3 1835.2,181.1 1836.8,187.9 1838.3,185.1 1839.8,189.6 1841.3,188.9 1842.8,203 1844.4,196.3 1845.9,184.6 1847.4,195.9 1848.9,194.6 1850.4,198.9 1852,203.2 1853.5,199.2 1855,200.8 1856.5,206.8 1858.1,207.1 1859.6,204.3 1861.1,211.8 1862.6,212.9 1864.1,204.8 1865.7,205.8 1867.2,212.5 1868.7,205.5 1870.2,209.3 1871.8,211.9 1873.3,216.6 1874.8,211.6 1876.3,217.9 1877.8,216.4 1879.4,219.4 1880.9,211.8 1882.4,217 1883.9,217.9 1885.5,215.5 1887,207.9 1888.5,214.6 1890,226.4 1891.5,219.9 1893.1,219.8 1894.6,223 1896.1,225.1 1897.6,213.6 1899.1,218 1899.5,162.1 1901,174.7 1902.5,178.7 1904.1,184.3 1905.6,188.7 1907.1,192.8 1908.6,198.4 1910.1,199.1 1911.7,197.9 1913.2,203.3 1914.7,199.5 1916.2,206.4 1917.8,200.4 1919.3,211.3 1920.8,205 1922.3,202 1923.8,205 1925.4,212.2 1926.9,205.1 1928.4,211.7 1929.9,211.2 1931.5,213.9 1933,222.2 1934.5,212.8 1936,214.1 1937.5,213.4 1939.1,221.8 1940.6,214.5 1942.1,221.6 1943.6,224.5 1945.1,224.4 1946.7,219.5 1948.2,222.7 1949.7,214.6 1951.2,218.3 1952.8,217.2 1954.3,223.4 1955.8,227.8 1957.3,230.5 1958.8,224.7 1960.4,218.5 1961.9,218.9 1963.4,232 1964.9,223.8 1966.5,222.1 1968,229.9 1968.3,176.9 1969.8,190 1971.4,192 1972.9,195.6 1974.4,200.8 1975.9,202 1977.5,206.5 1979,204.7 1980.5,220.9 1982,206.1 1983.5,205 1985.1,216.8 1986.6,213 1988.1,210.8 1989.6,217.6 1991.1,218.6 1992.7,216.9 1994.2,214.3 1995.7,224.6 1997.2,218.3 1998.8,217.8 2000.3,227 2001.8,221 2003.3,216 2004.8,223.1 2006.4,224.4 2007.9,218 2009.4,227.4 2010.9,226.2 2012.5,220 2014,218.7 2015.5,231.7 2017,228.2 2018.5,225.7 2020.1,222.6 2021.6,226.5 2023.1,231.6 2024.6,225.8 2026.2,239.5 2027.7,229.3 2029.2,227 2030.7,225.6 2032.2,228.8 2033.8,237.4 2035.3,227.1 2036.8,233.9 2037.1,208.6 2038.7,206.2 2040.2,223 2041.7,206.7 2043.2,214.5 2044.8,216.1 2046.3,222.1 2047.8,219.7 2049.3,221.3 2050.8,224.1 2052.4,233 2053.9,225.4 2055.4,227.2 2056.9,225.1 2058.5,228.3 2060,229.9 2061.5,231.1 2063,239.2 2064.5,241.5 2066.1,234.5 2067.6,237.8 2069.1,233.3 2070.6,241.3 2072.2,239 2073.7,233.9 2075.2,237.5 2076.7,241.9 2078.2,236.1 2079.8,237.8 2081.3,243.9 2082.8,242.6 2084.3,239.3 2085.8,241.4 2087.4,242 2088.9,243.5 2090.4,253.3 2091.9,239.6 2093.5,240.7 2095,242.9 2096.5,250.5 2098,244.6 2099.5,243.1 2101.1,244.2 2102.6,243.9 2104.1,253.5 2105.6,241.2" fill="none" stroke="#4c72be" stroke-width="2.5" stroke-linejoin="miter"/>
<path d="M1417.7,393.2 1419.2,397.9 1420.7,399.2 1422.3,402.4 1423.8,399.4 1425.3,399.9 1426.8,400.3 1428.4,399.3 1429.9,399.2 1431.4,401.1 1432.9,401 1434.4,400.5 1436,399 1437.5,399.2 1439,401.6 1440.5,401.4 1442,399 1443.6,398 1445.1,400 1446.6,400.9 1448.1,398.7 1449.7,400.4 1451.2,399.1 1452.7,398.1 1454.2,399.3 1455.7,400 1457.3,399.2 1458.8,400.9 1460.3,400.3 1461.8,400.8 1463.4,400.4 1464.9,400.7 1466.4,400.3 1467.9,400.6 1469.4,400 1471,400 1472.5,399.8 1474,398.4 1475.5,402.1 1477.1,398.5 1478.6,400.4 1480.1,401.7 1481.6,400.4 1483.1,400 1484.7,398.8 1486.2,401.5 1486.5,336.8 1488,345 1489.6,351.6 1491.1,353.4 1492.6,352.7 1494.1,353.6 1495.7,353.8 1497.2,355.1 1498.7,355.8 1500.2,356.6 1501.7,355.6 1503.3,358.5 1504.8,357.9 1506.3,357.5 1507.8,360.3 1509.4,356.9 1510.9,359.7 1512.4,359 1513.9,356.4 1515.4,360.3 1517,360.1 1518.5,357.6 1520,361 1521.5,360.3 1523.1,359.2 1524.6,359.4 1526.1,359.3 1527.6,359.6 1529.1,358.5 1530.7,359 1532.2,359.6 1533.7,361.2 1535.2,361.3 1536.7,362.9 1538.3,359.6 1539.8,362.8 1541.3,359.4 1542.8,358.3 1544.4,361.9 1545.9,361.5 1547.4,361.3 1548.9,359.6 1550.4,361.8 1552,360.9 1553.5,361.4 1555,361.1 1555.4,251.9 1556.9,267.1 1558.4,272.6 1559.9,276.4 1561.4,278.3 1563,282.8 1564.5,281.3 1566,283.4 1567.5,283.8 1569.1,285.8 1570.6,288.7 1572.1,288.2 1573.6,287 1575.1,288.6 1576.7,289.3 1578.2,287.5 1579.7,287.4 1581.2,290.7 1582.7,288.6 1584.3,293.8 1585.8,294.2 1587.3,290.8 1588.8,292.5 1590.4,291.7 1591.9,292 1593.4,293 1594.9,292.2 1596.4,293 1598,295.3 1599.5,293.2 1601,293.4 1602.5,291.4 1604.1,295.2 1605.6,293.9 1607.1,294.5 1608.6,294.2 1610.1,292 1611.7,293.7 1613.2,294.9 1614.7,294.1 1616.2,293.4 1617.8,295.7 1619.3,294.8 1620.8,292.5 1622.3,293.4 1623.8,294.6 1624.2,192.7 1625.7,206.4 1627.2,215.9 1628.7,217.5 1630.3,221.3 1631.8,223.8 1633.3,227.4 1634.8,228.2 1636.4,228 1637.9,229.6 1639.4,231.7 1640.9,231.5 1642.4,231.9 1644,234.9 1645.5,235.5 1647,236.8 1648.5,237.9 1650.1,236.1 1651.6,237.1 1653.1,238 1654.6,240.4 1656.1,240.8 1657.7,240.1 1659.2,241 1660.7,240.8 1662.2,242.2 1663.8,240.9 1665.3,239.8 1666.8,240.4 1668.3,240.7 1669.8,242.9 1671.4,242.1 1672.9,244 1674.4,242.6 1675.9,244.5 1677.4,244.8 1679,245.2 1680.5,243.7 1682,244.4 1683.5,244.7 1685.1,246.5 1686.6,245 1688.1,247.2 1689.6,243.6 1691.1,245.8 1692.7,245.5 1693,157.6 1694.5,175.6 1696.1,184.5 1697.6,188.3 1699.1,190.1 1700.6,196.2 1702.1,197.9 1703.7,199 1705.2,202.7 1706.7,204.3 1708.2,204.1 1709.8,205 1711.3,206.6 1712.8,205.4 1714.3,208.6 1715.8,208.9 1717.4,208.3 1718.9,209.1 1720.4,214.1 1721.9,213.3 1723.4,212.1 1725,216 1726.5,216 1728,217.1 1729.5,217.7 1731.1,217.9 1732.6,216.8 1734.1,215.9 1735.6,216 1737.1,218.3 1738.7,221.1 1740.2,219.1 1741.7,219.8 1743.2,219.2 1744.8,220.1 1746.3,222.4 1747.8,219.9 1749.3,223.3 1750.8,221.7 1752.4,220.7 1753.9,220.8 1755.4,219.5 1756.9,224.6 1758.4,221.3 1760,221.1 1761.5,222.5 1761.8,140.9 1763.4,160.1 1764.9,167.5 1766.4,173.5 1767.9,179.4 1769.4,181.9 1771,183.8 1772.5,186.5 1774,186.3 1775.5,189.2 1777.1,189.4 1778.6,191.2 1780.1,194.1 1781.6,195.8 1783.1,198.1 1784.7,199.2 1786.2,200.4 1787.7,200.1 1789.2,202.8 1790.8,202.6 1792.3,203.4 1793.8,205.3 1795.3,205.8 1796.8,204.6 1798.4,205.2 1799.9,208.9 1801.4,208.9 1802.9,209.8 1804.4,210.4 1806,208.7 1807.5,210.4 1809,210.2 1810.5,210.1 1812.1,213.4 1813.6,213.6 1815.1,213.8 1816.6,213 1818.1,214.8 1819.7,214.2 1821.2,214 1822.7,214.3 1824.2,215.6 1825.8,217.4 1827.3,218.7 1828.8,215.6 1830.3,216.8 1830.7,142.9 1832.2,159.3 1833.7,168.7 1835.2,176 1836.8,177.5 1838.3,181.7 1839.8,183.4 1841.3,184.2 1842.8,187.1 1844.4,188 1845.9,189.8 1847.4,191.8 1848.9,193.3 1850.4,192.4 1852,196.2 1853.5,195.2 1855,199.6 1856.5,198.6 1858.1,200.4 1859.6,202.5 1861.1,205.9 1862.6,201.5 1864.1,205.8 1865.7,206.4 1867.2,205.8 1868.7,206.6 1870.2,207 1871.8,208.4 1873.3,210.6 1874.8,208.2 1876.3,211 1877.8,210.1 1879.4,210.2 1880.9,209.9 1882.4,212.2 1883.9,212.7 1885.5,213.1 1887,215.5 1888.5,214.5 1890,215.2 1891.5,215.7 1893.1,214.4 1894.6,215.3 1896.1,213.2 1897.6,213.6 1899.1,218.1 1899.5,151 1901,167.7 1902.5,174.3 1904.1,180.1 1905.6,182.8 1907.1,186.3 1908.6,188 1910.1,191.3 1911.7,195.9 1913.2,195.9 1914.7,197 1916.2,198.1 1917.8,200.1 1919.3,198.1 1920.8,201.6 1922.3,201 1923.8,204.2 1925.4,202.7 1926.9,207.4 1928.4,206.1 1929.9,209.4 1931.5,208.1 1933,207.5 1934.5,212.3 1936,212.1 1937.5,211.4 1939.1,212.6 1940.6,214.8 1942.1,212.2 1943.6,214.2 1945.1,213.2 1946.7,214.9 1948.2,217.3 1949.7,216.9 1951.2,215 1952.8,218.9 1954.3,218.2 1955.8,217.2 1957.3,217.1 1958.8,217.7 1960.4,220.9 1961.9,216.7 1963.4,219.9 1964.9,219.9 1966.5,220.2 1968,220.8 1968.3,161.8 1969.8,176 1971.4,182.3 1972.9,190.8 1974.4,195.5 1975.9,194.3 1977.5,196.6 1979,197.9 1980.5,198.2 1982,202.8 1983.5,203.1 1985.1,204 1986.6,204.3 1988.1,205.8 1989.6,209.3 1991.1,211 1992.7,210.6 1994.2,213.3 1995.7,210.7 1997.2,213.5 1998.8,214.3 2000.3,215.7 2001.8,213.5 2003.3,215.7 2004.8,217.3 2006.4,216.6 2007.9,218.1 2009.4,217.8 2010.9,217.5 2012.5,220 2014,219.5 2015.5,220 2017,219.6 2018.5,220.7 2020.1,221.9 2021.6,223.1 2023.1,222.3 2024.6,224.3 2026.2,222.5 2027.7,223.6 2029.2,223.2 2030.7,224.9 2032.2,225.5 2033.8,225.9 2035.3,223.6 2036.8,225.5 2037.1,195.6 2038.7,204.1 2040.2,205.9 2041.7,212.9 2043.2,208.9 2044.8,212.7 2046.3,213.8 2047.8,217 2049.3,217.8 2050.8,216.9 2052.4,219 2053.9,219.2 2055.4,219.2 2056.9,220.9 2058.5,225 2060,224.7 2061.5,225.7 2063,226.2 2064.5,228.4 2066.1,229.1 2067.6,228.1 2069.1,228.5 2070.6,227.7 2072.2,229.3 2073.7,227.7 2075.2,232.3 2076.7,232.2 2078.2,230.6 2079.8,231.7 2081.3,233 2082.8,231.2 2084.3,231.2 2085.8,231.3 2087.4,233.8 2088.9,233.6 2090.4,233.6 2091.9,234.1 2093.5,233.2 2095,235.4 2096.5,234.5 2098,238 2099.5,234.5 2101.1,233.6 2102.6,235.9 2104.1,234.8 2105.6,238.3" fill="none" stroke="#4c72be" stroke-width="4.4" stroke-linejoin="miter"/>
<path d="M1418,92.9V417.8M1402,94.4H1418M1402,173.2H1418M1402,252H1418M1402,330.8H1418M1402,409.6H1418M1416.5,417.8H2137.4M1417.7,417.8V433.3M1537.4,417.8V433.3M1657.1,417.8V433.3M1776.8,417.8V433.3M1896.5,417.8V433.3M2016.2,417.8V433.3M2135.9,417.8V433.3" fill="none" stroke="#000" stroke-width="3"/>
<text x="1390.7" y="104.4" text-anchor="end" class="t">20</text>
<text x="1390.7" y="183.2" text-anchor="end" class="t">15</text>
<text x="1390.7" y="262" text-anchor="end" class="t">10</text>
<text x="1390.7" y="340.8" text-anchor="end" class="t">5</text>
<text x="1390.7" y="419.6" text-anchor="end" class="t">0</text>
<text x="1417.7" y="464.7" text-anchor="middle" class="t">0</text>
<text x="1537.4" y="464.7" text-anchor="middle" class="t">2</text>
<text x="1657.1" y="464.7" text-anchor="middle" class="t">4</text>
<text x="1776.8" y="464.7" text-anchor="middle" class="t">6</text>
<text x="1896.5" y="464.7" text-anchor="middle" class="t">8</text>
<text x="2016.2" y="464.7" text-anchor="middle" class="t">10</text>
<text x="2135.9" y="464.7" text-anchor="middle" class="t">12</text>
<text x="1701.6" y="504.7" textLength="154.7" lengthAdjust="spacing" class="t">Time (min)</text>
<text class="t" transform="translate(1337.4 359.4) rotate(-90)" textLength="212.1" lengthAdjust="spacing">xAM SBR (dB)</text>
<text x="1425.7" y="373.9" font-size="23" textLength="46" lengthAdjust="spacing" class="t">0.83</text>
<text x="1495.4" y="311.8" font-size="23" textLength="46" lengthAdjust="spacing" class="t">1.10</text>
<text x="1565.5" y="224.1" font-size="23" textLength="46" lengthAdjust="spacing" class="t">1.41</text>
<text x="1633" y="157.8" font-size="23" textLength="46" lengthAdjust="spacing" class="t">1.72</text>
<text x="1706.4" y="131" font-size="23" textLength="46" lengthAdjust="spacing" class="t">1.97</text>
<text x="1774.3" y="125.4" font-size="23" textLength="46" lengthAdjust="spacing" class="t">2.23</text>
<text x="1846.2" y="128.9" font-size="23" textLength="46" lengthAdjust="spacing" class="t">2.49</text>
<text x="1913.1" y="138.6" font-size="23" textLength="46" lengthAdjust="spacing" class="t">2.67</text>
<text x="1981" y="152.6" font-size="23" textLength="46" lengthAdjust="spacing" class="t">2.83</text>
<text x="2053" y="170.9" font-size="23" textLength="104" lengthAdjust="spacing" class="t">2.95 MPa</text>
<path d="M322.3,678.6V1017.6M305.8,680.1H322.3M305.8,780.6H322.3M305.8,881.2H322.3M305.8,981.8H322.3M320.8,1002.6H338 M375.6,1002.6H806.1M442.6,1002.6V1018.1M563.3,1002.6V1018.1M683.9,1002.6V1018.1M804.6,1002.6V1018.1M379.5,1002.6V1010.6M394.6,1002.6V1010.6M406.3,1002.6V1010.6M415.8,1002.6V1010.6M423.9,1002.6V1010.6M430.9,1002.6V1010.6M437.1,1002.6V1010.6M478.9,1002.6V1010.6M500.2,1002.6V1010.6M515.3,1002.6V1010.6M526.9,1002.6V1010.6M536.5,1002.6V1010.6M544.6,1002.6V1010.6M551.6,1002.6V1010.6M557.7,1002.6V1010.6M599.6,1002.6V1010.6M620.8,1002.6V1010.6M635.9,1002.6V1010.6M647.6,1002.6V1010.6M657.2,1002.6V1010.6M665.2,1002.6V1010.6M672.2,1002.6V1010.6M678.4,1002.6V1010.6M720.3,1002.6V1010.6M741.5,1002.6V1010.6M756.6,1002.6V1010.6M768.3,1002.6V1010.6M777.8,1002.6V1010.6M785.9,1002.6V1010.6M792.9,1002.6V1010.6M799.1,1002.6V1010.6" fill="none" stroke="#000" stroke-width="3"/>
<path d="M331.5,1016.5L342.9,997.9M364.2,1016.5L375.6,997.9" fill="none" stroke="#000" stroke-width="3"/>
<line x1="336" y1="981.8" x2="346" y2="981.8" stroke="#000" stroke-width="2.8" stroke-dasharray="3.4 5.8"/>
<line x1="382.6" y1="981.8" x2="801" y2="981.8" stroke="#000" stroke-width="2.8" stroke-dasharray="3.4 5.8"/>
<path d="M322.3,976.6 342.2,976.2" fill="none" stroke="#4c72be" stroke-width="2.9" stroke-linejoin="round"/>
<line x1="342.6" y1="967.5" x2="341.8" y2="987.5" stroke="#4c72be" stroke-width="2.9"/>
<line x1="377" y1="967" x2="375" y2="987.5" stroke="#4c72be" stroke-width="2.9"/>
<path d="M376,975 442.6,969 563.2,955 683.9,752 804.6,905" fill="none" stroke="#4c72be" stroke-width="2.9" stroke-linejoin="round"/>
<circle cx="322.3" cy="964.6" r="8.5" fill="#4c72be"/>
<circle cx="322.3" cy="978.1" r="8.5" fill="#4c72be"/>
<circle cx="322.3" cy="985" r="8.5" fill="#4c72be"/>
<circle cx="322.3" cy="988.1" r="8.5" fill="#4c72be"/>
<circle cx="442.6" cy="954" r="8.5" fill="#4c72be"/>
<circle cx="442.6" cy="975.6" r="8.5" fill="#4c72be"/>
<circle cx="442.6" cy="977" r="8.5" fill="#4c72be"/>
<circle cx="563.2" cy="948" r="8.5" fill="#4c72be"/>
<circle cx="563.2" cy="954.5" r="8.5" fill="#4c72be"/>
<circle cx="563.2" cy="960.6" r="8.5" fill="#4c72be"/>
<circle cx="683.9" cy="741.7" r="8.5" fill="#4c72be"/>
<circle cx="683.9" cy="746" r="8.5" fill="#4c72be"/>
<circle cx="683.9" cy="749.2" r="8.5" fill="#4c72be"/>
<circle cx="683.9" cy="768.7" r="8.5" fill="#4c72be"/>
<circle cx="804.6" cy="889.4" r="8.5" fill="#4c72be"/>
<circle cx="804.6" cy="894.5" r="8.5" fill="#4c72be"/>
<circle cx="804.6" cy="910.5" r="8.5" fill="#4c72be"/>
<circle cx="804.6" cy="927.5" r="8.5" fill="#4c72be"/>
<text x="298" y="690.9" text-anchor="end" class="t">15</text>
<text x="298" y="791.4" text-anchor="end" class="t">10</text>
<text x="298" y="892" text-anchor="end" class="t">5</text>
<text x="298" y="992.5" text-anchor="end" class="t">0</text>
<text x="320.6" y="1053.8" text-anchor="middle" class="t">0</text>
<text x="435.8" y="1047.8" text-anchor="middle" textLength="77.6" lengthAdjust="spacing" class="t">0.001</text>
<text x="557.4" y="1047.8" text-anchor="middle" textLength="59" lengthAdjust="spacing" class="t">0.01</text>
<text x="679.4" y="1047.8" text-anchor="middle" textLength="39.5" lengthAdjust="spacing" class="t">0.1</text>
<text x="804" y="1047.8" text-anchor="middle" class="t">1</text>
<text x="424.8" y="1085.2" textLength="311.6" lengthAdjust="spacing" class="t">[L-arabinose] (%w/v)</text>
<text class="t" transform="translate(246.7 941.8) rotate(-90)" textLength="204.8" lengthAdjust="spacing">xAM SBR (dB)</text>
<path d="M1485.7,672.8V1012.5M1469.2,674.3H1485.7M1469.2,781.9H1485.7M1469.2,889.5H1485.7M1469.2,997.1H1485.7M1484.2,997H1503 M1538.5,997H1969.6M1605.4,997V1012.5M1726.3,997V1012.5M1847.2,997V1012.5M1968.1,997V1012.5M1542.2,997V1005M1557.3,997V1005M1569,997V1005M1578.6,997V1005M1586.7,997V1005M1593.7,997V1005M1599.9,997V1005M1641.8,997V1005M1663.1,997V1005M1678.2,997V1005M1689.9,997V1005M1699.5,997V1005M1707.6,997V1005M1714.6,997V1005M1720.8,997V1005M1762.7,997V1005M1784,997V1005M1799.1,997V1005M1810.8,997V1005M1820.4,997V1005M1828.5,997V1005M1835.5,997V1005M1841.7,997V1005M1883.6,997V1005M1904.9,997V1005M1920,997V1005M1931.7,997V1005M1941.3,997V1005M1949.4,997V1005M1956.4,997V1005M1962.6,997V1005" fill="none" stroke="#000" stroke-width="3"/>
<path d="M1496.8,1010L1506.4,991M1529.6,1010L1539.2,991" fill="none" stroke="#000" stroke-width="3"/>
<path d="M1485,972 1508.2,937" fill="none" stroke="#4c72be" stroke-width="2.9" stroke-linejoin="round"/>
<line x1="1500" y1="931.5" x2="1516.5" y2="942.5" stroke="#4c72be" stroke-width="2.9"/>
<line x1="1519.5" y1="903" x2="1536" y2="914" stroke="#4c72be" stroke-width="2.9"/>
<path d="M1527.8,908.5 1605.4,767 1726.3,733 1847.2,705.5 1968.1,770" fill="none" stroke="#4c72be" stroke-width="2.9" stroke-linejoin="round"/>
<circle cx="1485.7" cy="969.5" r="8.5" fill="#4c72be"/>
<circle cx="1485.7" cy="972" r="8.5" fill="#4c72be"/>
<circle cx="1485.7" cy="975" r="8.5" fill="#4c72be"/>
<circle cx="1605.4" cy="757.5" r="8.5" fill="#4c72be"/>
<circle cx="1605.4" cy="765.8" r="8.5" fill="#4c72be"/>
<circle cx="1605.4" cy="773" r="8.5" fill="#4c72be"/>
<circle cx="1605.4" cy="781.4" r="8.5" fill="#4c72be"/>
<circle cx="1726.3" cy="730.2" r="8.5" fill="#4c72be"/>
<circle cx="1726.3" cy="735.2" r="8.5" fill="#4c72be"/>
<circle cx="1726.3" cy="738.5" r="8.5" fill="#4c72be"/>
<circle cx="1847.2" cy="697.9" r="8.5" fill="#4c72be"/>
<circle cx="1847.2" cy="703.5" r="8.5" fill="#4c72be"/>
<circle cx="1847.2" cy="720.2" r="8.5" fill="#4c72be"/>
<circle cx="1968.1" cy="755.8" r="8.5" fill="#4c72be"/>
<circle cx="1968.1" cy="769.1" r="8.5" fill="#4c72be"/>
<circle cx="1968.1" cy="774.1" r="8.5" fill="#4c72be"/>
<circle cx="1968.1" cy="784.2" r="8.5" fill="#4c72be"/>
<text x="1457.6" y="684.6" text-anchor="end" class="t">60</text>
<text x="1457.6" y="792.2" text-anchor="end" class="t">40</text>
<text x="1457.6" y="899.8" text-anchor="end" class="t">20</text>
<text x="1457.6" y="1007.4" text-anchor="end" class="t">0</text>
<text x="1485.8" y="1052.7" text-anchor="middle" class="t">0</text>
<text x="1606.7" y="1052.7" text-anchor="middle" textLength="77.6" lengthAdjust="spacing" class="t">0.001</text>
<text x="1728" y="1052.7" text-anchor="middle" textLength="59" lengthAdjust="spacing" class="t">0.01</text>
<text x="1849.5" y="1052.7" text-anchor="middle" textLength="39.5" lengthAdjust="spacing" class="t">0.1</text>
<text x="1968" y="1052.7" text-anchor="middle" class="t">1</text>
<text x="1558" y="1093.7" textLength="311.7" lengthAdjust="spacing" class="t">[L-arabinose] (%w/v)</text>
<text class="t" transform="translate(1403.8 962.6) rotate(-90)" textLength="260" lengthAdjust="spacing">BURST SBR (dB)</text>
<line x1="346" y1="1928.8" x2="819" y2="1928.8" stroke="#000" stroke-width="2.8" stroke-dasharray="3.4 5.8"/>
<path d="M409.4,1919 478.3,1920.7 547.1,1918 615.9,1918 664,1872 684.8,1832 732.9,1737 753.6,1685 774.3,1640.5" fill="none" stroke="#4c72be" stroke-width="2.9" stroke-linejoin="round"/>
<circle cx="409.4" cy="1913.7" r="8.5" fill="#4c72be"/>
<circle cx="409.4" cy="1919.2" r="8.5" fill="#4c72be"/>
<circle cx="409.4" cy="1923.2" r="8.5" fill="#4c72be"/>
<circle cx="478.3" cy="1920.7" r="8.5" fill="#4c72be"/>
<circle cx="478.3" cy="1921.5" r="8.5" fill="#4c72be"/>
<circle cx="547.1" cy="1914.7" r="8.5" fill="#4c72be"/>
<circle cx="547.1" cy="1920.7" r="8.5" fill="#4c72be"/>
<circle cx="615.9" cy="1910.7" r="8.5" fill="#4c72be"/>
<circle cx="615.9" cy="1923.2" r="8.5" fill="#4c72be"/>
<circle cx="664" cy="1862.6" r="8.5" fill="#4c72be"/>
<circle cx="664" cy="1881.7" r="8.5" fill="#4c72be"/>
<circle cx="684.8" cy="1821.6" r="8.5" fill="#4c72be"/>
<circle cx="684.8" cy="1834.6" r="8.5" fill="#4c72be"/>
<circle cx="684.8" cy="1839.6" r="8.5" fill="#4c72be"/>
<circle cx="732.9" cy="1730.9" r="8.5" fill="#4c72be"/>
<circle cx="732.9" cy="1743" r="8.5" fill="#4c72be"/>
<circle cx="753.6" cy="1672.8" r="8.5" fill="#4c72be"/>
<circle cx="753.6" cy="1697.9" r="8.5" fill="#4c72be"/>
<circle cx="774.3" cy="1640.3" r="8.5" fill="#4c72be"/>
<circle cx="774.3" cy="1641" r="8.5" fill="#4c72be"/>
<rect x="744.4" y="1911.9" width="18.4" height="24" fill="#ee8a4b"/>
<path d="M340.6,1625.3V1949.2M324.1,1626.8H340.6M324.1,1727.5H340.6M324.1,1828.1H340.6M324.1,1928.8H340.6M339.1,1949.2H823.9M340.6,1949.2V1964.7M409.4,1949.2V1964.7M478.3,1949.2V1964.7M547.1,1949.2V1964.7M615.9,1949.2V1964.7M684.8,1949.2V1964.7M753.6,1949.2V1964.7M822.4,1949.2V1964.7M361.3,1949.2V1957.2M373.4,1949.2V1957.2M382,1949.2V1957.2M388.7,1949.2V1957.2M394.2,1949.2V1957.2M398.8,1949.2V1957.2M402.8,1949.2V1957.2M406.3,1949.2V1957.2M430.1,1949.2V1957.2M442.3,1949.2V1957.2M450.9,1949.2V1957.2M457.5,1949.2V1957.2M463,1949.2V1957.2M467.6,1949.2V1957.2M471.6,1949.2V1957.2M475.1,1949.2V1957.2M499,1949.2V1957.2M511.1,1949.2V1957.2M519.7,1949.2V1957.2M526.4,1949.2V1957.2M531.8,1949.2V1957.2M536.4,1949.2V1957.2M540.4,1949.2V1957.2M543.9,1949.2V1957.2M567.8,1949.2V1957.2M579.9,1949.2V1957.2M588.5,1949.2V1957.2M595.2,1949.2V1957.2M600.7,1949.2V1957.2M605.3,1949.2V1957.2M609.2,1949.2V1957.2M612.8,1949.2V1957.2M636.6,1949.2V1957.2M648.8,1949.2V1957.2M657.4,1949.2V1957.2M664,1949.2V1957.2M669.5,1949.2V1957.2M674.1,1949.2V1957.2M678.1,1949.2V1957.2M681.6,1949.2V1957.2M705.5,1949.2V1957.2M717.6,1949.2V1957.2M726.2,1949.2V1957.2M732.9,1949.2V1957.2M738.3,1949.2V1957.2M742.9,1949.2V1957.2M746.9,1949.2V1957.2M750.4,1949.2V1957.2M774.3,1949.2V1957.2M786.4,1949.2V1957.2M795,1949.2V1957.2M801.7,1949.2V1957.2M807.1,1949.2V1957.2M811.7,1949.2V1957.2M815.7,1949.2V1957.2M819.3,1949.2V1957.2" fill="none" stroke="#000" stroke-width="3"/>
<text x="316.6" y="1637.6" text-anchor="end" class="t">15</text>
<text x="316.6" y="1738.3" text-anchor="end" class="t">10</text>
<text x="316.6" y="1838.9" text-anchor="end" class="t">5</text>
<text x="316.6" y="1939.6" text-anchor="end" class="t">0</text>
<text x="318.2" y="1997" textLength="35" lengthAdjust="spacing" class="t">10</text>
<text x="354.4" y="1987.2" font-size="20" class="t">3</text>
<text x="387.6" y="1997" textLength="35" lengthAdjust="spacing" class="t">10</text>
<text x="423.8" y="1987.2" font-size="20" class="t">4</text>
<text x="457" y="1997" textLength="35" lengthAdjust="spacing" class="t">10</text>
<text x="493.2" y="1987.2" font-size="20" class="t">5</text>
<text x="526.3" y="1997" textLength="35" lengthAdjust="spacing" class="t">10</text>
<text x="562.5" y="1987.2" font-size="20" class="t">6</text>
<text x="595.7" y="1997" textLength="35" lengthAdjust="spacing" class="t">10</text>
<text x="631.9" y="1987.2" font-size="20" class="t">7</text>
<text x="665.1" y="1997" textLength="35" lengthAdjust="spacing" class="t">10</text>
<text x="701.3" y="1987.2" font-size="20" class="t">8</text>
<text x="734.5" y="1997" textLength="35" lengthAdjust="spacing" class="t">10</text>
<text x="770.7" y="1987.2" font-size="20" class="t">9</text>
<text x="798.3" y="1997" textLength="35" lengthAdjust="spacing" class="t">10</text>
<text x="834.5" y="1987.2" font-size="20" class="t">10</text>
<text x="520.9" y="2036" textLength="128.7" lengthAdjust="spacing" class="t">Cells/mL</text>
<text class="t" transform="translate(263 1884.7) rotate(-90)" textLength="204.4" lengthAdjust="spacing">xAM SBR (dB)</text>
<line x1="432" y1="1553.4" x2="492.1" y2="1553.4" stroke="#4c72be" stroke-width="2.4"/>
<circle cx="462" cy="1553.4" r="8.5" fill="#4c72be"/>
<line x1="432" y1="1590.8" x2="492.1" y2="1590.8" stroke="#ee8a4b" stroke-width="2.4"/>
<rect x="453.3" y="1582.1" width="17.4" height="17.4" fill="#ee8a4b"/>
<text x="500.2" y="1559.3" textLength="178.3" lengthAdjust="spacing" class="t">pBAD-bARG</text>
<text x="681.8" y="1570" font-size="17.5" textLength="29.4" lengthAdjust="spacing" class="t">Ser</text>
<text x="712.5" y="1559.3" textLength="118.1" lengthAdjust="spacing" class="t">-AxeTxe</text>
<text x="500.2" y="1602" textLength="253.8" lengthAdjust="spacing" class="t">pBAD-FP-AxeTxe</text>
<path d="M1436.6,1629.3V1968.8M1420.1,1630.8H1436.6M1420.1,1738.1H1436.6M1420.1,1845.5H1436.6M1420.1,1952.8H1436.6M1435.1,1952.8H1920.4M1436.6,1952.8V1968.3M1505.5,1952.8V1968.3M1574.4,1952.8V1968.3M1643.3,1952.8V1968.3M1712.2,1952.8V1968.3M1781.1,1952.8V1968.3M1850,1952.8V1968.3M1918.9,1952.8V1968.3M1457.3,1952.8V1960.8M1469.5,1952.8V1960.8M1478.1,1952.8V1960.8M1484.8,1952.8V1960.8M1490.2,1952.8V1960.8M1494.8,1952.8V1960.8M1498.8,1952.8V1960.8M1502.3,1952.8V1960.8M1526.2,1952.8V1960.8M1538.4,1952.8V1960.8M1547,1952.8V1960.8M1553.7,1952.8V1960.8M1559.1,1952.8V1960.8M1563.7,1952.8V1960.8M1567.7,1952.8V1960.8M1571.2,1952.8V1960.8M1595.1,1952.8V1960.8M1607.3,1952.8V1960.8M1615.9,1952.8V1960.8M1622.6,1952.8V1960.8M1628,1952.8V1960.8M1632.6,1952.8V1960.8M1636.6,1952.8V1960.8M1640.1,1952.8V1960.8M1664,1952.8V1960.8M1676.2,1952.8V1960.8M1684.8,1952.8V1960.8M1691.5,1952.8V1960.8M1696.9,1952.8V1960.8M1701.5,1952.8V1960.8M1705.5,1952.8V1960.8M1709,1952.8V1960.8M1732.9,1952.8V1960.8M1745.1,1952.8V1960.8M1753.7,1952.8V1960.8M1760.4,1952.8V1960.8M1765.8,1952.8V1960.8M1770.4,1952.8V1960.8M1774.4,1952.8V1960.8M1777.9,1952.8V1960.8M1801.8,1952.8V1960.8M1814,1952.8V1960.8M1822.6,1952.8V1960.8M1829.3,1952.8V1960.8M1834.7,1952.8V1960.8M1839.3,1952.8V1960.8M1843.3,1952.8V1960.8M1846.8,1952.8V1960.8M1870.7,1952.8V1960.8M1882.9,1952.8V1960.8M1891.5,1952.8V1960.8M1898.2,1952.8V1960.8M1903.6,1952.8V1960.8M1908.2,1952.8V1960.8M1912.2,1952.8V1960.8M1915.7,1952.8V1960.8" fill="none" stroke="#000" stroke-width="3"/>
<path d="M1505.5,1938 1574.4,1934 1643.3,1807 1712.2,1729 1760.4,1689 1781.1,1668 1829.3,1655 1850,1651 1870.7,1642" fill="none" stroke="#4c72be" stroke-width="2.9" stroke-linejoin="round"/>
<circle cx="1505.5" cy="1930.8" r="8.5" fill="#4c72be"/>
<circle cx="1505.5" cy="1934.8" r="8.5" fill="#4c72be"/>
<circle cx="1505.5" cy="1948.3" r="8.5" fill="#4c72be"/>
<circle cx="1574.4" cy="1923.7" r="8.5" fill="#4c72be"/>
<circle cx="1574.4" cy="1942.3" r="8.5" fill="#4c72be"/>
<circle cx="1643.3" cy="1800.5" r="8.5" fill="#4c72be"/>
<circle cx="1643.3" cy="1806.6" r="8.5" fill="#4c72be"/>
<circle cx="1643.3" cy="1813.1" r="8.5" fill="#4c72be"/>
<circle cx="1712.2" cy="1720.4" r="8.5" fill="#4c72be"/>
<circle cx="1712.2" cy="1727.9" r="8.5" fill="#4c72be"/>
<circle cx="1712.2" cy="1739.4" r="8.5" fill="#4c72be"/>
<circle cx="1760.4" cy="1679.3" r="8.5" fill="#4c72be"/>
<circle cx="1760.4" cy="1690.4" r="8.5" fill="#4c72be"/>
<circle cx="1760.4" cy="1697.9" r="8.5" fill="#4c72be"/>
<circle cx="1781.1" cy="1661.8" r="8.5" fill="#4c72be"/>
<circle cx="1781.1" cy="1675.3" r="8.5" fill="#4c72be"/>
<circle cx="1829.3" cy="1644.3" r="8.5" fill="#4c72be"/>
<circle cx="1829.3" cy="1647.8" r="8.5" fill="#4c72be"/>
<circle cx="1829.3" cy="1672.8" r="8.5" fill="#4c72be"/>
<circle cx="1850" cy="1645.3" r="8.5" fill="#4c72be"/>
<circle cx="1850" cy="1651.3" r="8.5" fill="#4c72be"/>
<circle cx="1850" cy="1657.8" r="8.5" fill="#4c72be"/>
<circle cx="1870.7" cy="1639.3" r="8.5" fill="#4c72be"/>
<circle cx="1870.7" cy="1643.8" r="8.5" fill="#4c72be"/>
<rect x="1840.8" y="1935.5" width="18.4" height="23.6" fill="#ee8a4b"/>
<text x="1412.5" y="1641.6" text-anchor="end" class="t">60</text>
<text x="1412.5" y="1748.9" text-anchor="end" class="t">40</text>
<text x="1412.5" y="1856.3" text-anchor="end" class="t">20</text>
<text x="1412.5" y="1963.6" text-anchor="end" class="t">0</text>
<text x="1409.8" y="2002" textLength="35" lengthAdjust="spacing" class="t">10</text>
<text x="1446" y="1992.2" font-size="20" class="t">3</text>
<text x="1479.2" y="2002" textLength="35" lengthAdjust="spacing" class="t">10</text>
<text x="1515.4" y="1992.2" font-size="20" class="t">4</text>
<text x="1548.6" y="2002" textLength="35" lengthAdjust="spacing" class="t">10</text>
<text x="1584.8" y="1992.2" font-size="20" class="t">5</text>
<text x="1618" y="2002" textLength="35" lengthAdjust="spacing" class="t">10</text>
<text x="1654.2" y="1992.2" font-size="20" class="t">6</text>
<text x="1687.4" y="2002" textLength="35" lengthAdjust="spacing" class="t">10</text>
<text x="1723.6" y="1992.2" font-size="20" class="t">7</text>
<text x="1756.8" y="2002" textLength="35" lengthAdjust="spacing" class="t">10</text>
<text x="1793" y="1992.2" font-size="20" class="t">8</text>
<text x="1826.2" y="2002" textLength="35" lengthAdjust="spacing" class="t">10</text>
<text x="1862.4" y="1992.2" font-size="20" class="t">9</text>
<text x="1890" y="2002" textLength="35" lengthAdjust="spacing" class="t">10</text>
<text x="1926.2" y="1992.2" font-size="20" class="t">10</text>
<text x="1612.3" y="2040" textLength="128.7" lengthAdjust="spacing" class="t">Cells/mL</text>
<text class="t" transform="translate(1356.4 1926.8) rotate(-90)" textLength="261.5" lengthAdjust="spacing">BURST SBR (dB)</text>
<line x1="1517.2" y1="1552.6" x2="1575.8" y2="1552.6" stroke="#4c72be" stroke-width="2.4"/>
<circle cx="1546.5" cy="1552.6" r="8.5" fill="#4c72be"/>
<line x1="1517.2" y1="1590.2" x2="1575.8" y2="1590.2" stroke="#ee8a4b" stroke-width="2.4"/>
<rect x="1537.8" y="1581.5" width="17.4" height="17.4" fill="#ee8a4b"/>
<text x="1584.8" y="1559.1" textLength="178.3" lengthAdjust="spacing" class="t">pBAD-bARG</text>
<text x="1766.4" y="1570" font-size="17.5" textLength="29.4" lengthAdjust="spacing" class="t">Ser</text>
<text x="1797.1" y="1559.1" textLength="119.2" lengthAdjust="spacing" class="t">-AxeTxe</text>
<text x="1584.8" y="1601.2" textLength="253.8" lengthAdjust="spacing" class="t">pBAD-FP-AxeTxe</text>
<text x="377" y="1171.3" textLength="311" lengthAdjust="spacing" class="t">[L-arabinose] (%w/v)</text>
<text x="275.5" y="1213.9" text-anchor="middle" class="t">0</text>
<text x="405.7" y="1213.9" text-anchor="middle" textLength="77.5" lengthAdjust="spacing" class="t">0.001</text>
<text x="535.6" y="1213.9" text-anchor="middle" textLength="60" lengthAdjust="spacing" class="t">0.01</text>
<text x="664.8" y="1213.9" text-anchor="middle" textLength="41.4" lengthAdjust="spacing" class="t">0.1</text>
<text x="794.3" y="1213.9" text-anchor="middle" class="t">1</text>
<g filter="url(#fh)"><rect x="217.9" y="1224.4" width="114.7" height="107.2" fill="#000000"/><ellipse cx="305.5" cy="1251.7" rx="1.4" ry="1.4" fill="#797979"/><ellipse cx="308.4" cy="1234.5" rx="1.8" ry="1.5" fill="#5b5b5b"/><ellipse cx="305.3" cy="1226.6" rx="2.2" ry="1.7" fill="#767676"/><ellipse cx="326.3" cy="1321" rx="2.1" ry="1.4" fill="#5b5b5b"/><ellipse cx="325.6" cy="1265.3" rx="1.3" ry="1.1" fill="#676767"/><ellipse cx="243.3" cy="1271.3" rx="1.8" ry="1.1" fill="#797979"/><ellipse cx="243" cy="1273.7" rx="1.6" ry="1.1" fill="#6c6c6c"/><ellipse cx="281.7" cy="1293.3" rx="1.3" ry="1.2" fill="#656565"/><ellipse cx="231.8" cy="1260.1" rx="2.4" ry="2.3" fill="#878787"/><ellipse cx="266.3" cy="1313.4" rx="2.1" ry="2" fill="#848484"/><ellipse cx="319.1" cy="1315.1" rx="1.6" ry="1.4" fill="#797979"/><ellipse cx="245.7" cy="1309.9" rx="1.9" ry="1.2" fill="#747474"/><ellipse cx="298.5" cy="1296.7" rx="1.5" ry="1.2" fill="#717171"/><ellipse cx="307.2" cy="1280.2" rx="1.8" ry="1.4" fill="#727272"/></g>
<g filter="url(#fh)"><rect x="347.4" y="1224.4" width="114.7" height="107.2" fill="#050505"/><ellipse cx="353.9" cy="1233.5" rx="2.4" ry="2.3" fill="#8f8f8f"/><ellipse cx="382.7" cy="1289.4" rx="2.1" ry="1.8" fill="#808080"/><ellipse cx="396.8" cy="1266.6" rx="1.9" ry="1.3" fill="#878787"/><ellipse cx="409.8" cy="1272.1" rx="2.4" ry="2.3" fill="#6a6a6a"/><ellipse cx="400.7" cy="1258.5" rx="1.3" ry="0.8" fill="#717171"/><ellipse cx="411.7" cy="1249.7" rx="2.3" ry="1.8" fill="#5b5b5b"/><ellipse cx="405.9" cy="1330" rx="1.7" ry="1.1" fill="#848484"/><ellipse cx="438.8" cy="1303.1" rx="1.5" ry="1.4" fill="#939393"/><ellipse cx="388" cy="1329.1" rx="2.1" ry="2" fill="#979797"/><ellipse cx="429.4" cy="1273.9" rx="1.5" ry="1.3" fill="#7b7b7b"/><ellipse cx="404.8" cy="1313.5" rx="1.8" ry="1.8" fill="#707070"/><ellipse cx="400.3" cy="1285.3" rx="2.3" ry="2.2" fill="#949494"/><ellipse cx="372.8" cy="1259.2" rx="2.1" ry="1.7" fill="#868686"/><ellipse cx="378.2" cy="1322.1" rx="1.5" ry="1.4" fill="#6d6d6d"/><ellipse cx="405.2" cy="1279.9" rx="2.4" ry="2.1" fill="#838383"/><ellipse cx="371.2" cy="1279.3" rx="1.9" ry="1.4" fill="#959595"/><ellipse cx="441.5" cy="1302.2" rx="2" ry="1.3" fill="#939393"/><ellipse cx="354.1" cy="1294.4" rx="1.5" ry="1.4" fill="#6b6b6b"/><ellipse cx="359.6" cy="1280.4" rx="1.5" ry="1.5" fill="#909090"/><ellipse cx="448.4" cy="1269.7" rx="1.6" ry="1.1" fill="#878787"/></g>
<g filter="url(#fh)"><rect x="477" y="1224.4" width="114.7" height="107.2" fill="#0a0a0a"/><ellipse cx="519.4" cy="1289.1" rx="1.6" ry="1.3" fill="#a9a9a9"/><ellipse cx="573.1" cy="1252.2" rx="1.4" ry="0.8" fill="#777777"/><ellipse cx="572.9" cy="1275.5" rx="2.6" ry="2" fill="#ababab"/><ellipse cx="576.6" cy="1280.5" rx="1.5" ry="1.3" fill="#b8b8b8"/><ellipse cx="564" cy="1287.8" rx="2.2" ry="1.4" fill="#808080"/><ellipse cx="531.2" cy="1301.5" rx="1.3" ry="1.3" fill="#c9c9c9"/><ellipse cx="522.3" cy="1310.3" rx="2.2" ry="2.2" fill="#929292"/><ellipse cx="488.2" cy="1239" rx="2.5" ry="2.4" fill="#757575"/><ellipse cx="548.9" cy="1256.7" rx="2.6" ry="2" fill="#9a9a9a"/><ellipse cx="544.1" cy="1287" rx="1.8" ry="1.3" fill="#cdcdcd"/><ellipse cx="575.2" cy="1329" rx="2.2" ry="2.1" fill="#afafaf"/><ellipse cx="587.6" cy="1321.4" rx="1.5" ry="1.4" fill="#a2a2a2"/><ellipse cx="572.4" cy="1285.9" rx="2.2" ry="1.5" fill="#7e7e7e"/><ellipse cx="589.8" cy="1233.9" rx="1.4" ry="1.3" fill="#bfbfbf"/><ellipse cx="510.7" cy="1306.8" rx="1.8" ry="1.2" fill="#c9c9c9"/><ellipse cx="482.2" cy="1301.4" rx="1.4" ry="1.1" fill="#838383"/><ellipse cx="535" cy="1328.7" rx="2.4" ry="2.4" fill="#818181"/><ellipse cx="480.6" cy="1245.6" rx="1.4" ry="1.2" fill="#8d8d8d"/><ellipse cx="481.9" cy="1317.4" rx="2.1" ry="1.4" fill="#818181"/><ellipse cx="520.3" cy="1273.8" rx="2.5" ry="2.4" fill="#9c9c9c"/><ellipse cx="541.1" cy="1290.9" rx="2.1" ry="1.8" fill="#d1d1d1"/><ellipse cx="559.6" cy="1249.9" rx="2" ry="1.5" fill="#808080"/><ellipse cx="539.9" cy="1227" rx="2.6" ry="2.1" fill="#8e8e8e"/><ellipse cx="547.6" cy="1292.2" rx="2.1" ry="1.2" fill="#616161"/><ellipse cx="554.9" cy="1262.2" rx="2.1" ry="1.7" fill="#b3b3b3"/><ellipse cx="483.9" cy="1296.9" rx="2.3" ry="1.4" fill="#d4d4d4"/><ellipse cx="545" cy="1258.7" rx="1.6" ry="1.3" fill="#888888"/><ellipse cx="545.3" cy="1256.6" rx="1.7" ry="1.3" fill="#898989"/><ellipse cx="542.3" cy="1303.2" rx="2.3" ry="1.4" fill="#818181"/><ellipse cx="504.4" cy="1244.5" rx="1.6" ry="1.5" fill="#919191"/></g>
<g filter="url(#fh)"><rect x="606.5" y="1224.4" width="114.7" height="107.2" fill="#050505"/><ellipse cx="663.9" cy="1280.1" rx="40.7" ry="41.3" fill="#9e9e9e"/><ellipse cx="651.9" cy="1241" rx="1.5" ry="1" fill="#535353"/><ellipse cx="698.3" cy="1306.4" rx="1.7" ry="1.6" fill="#636363"/><ellipse cx="626.3" cy="1235.8" rx="1.8" ry="1.3" fill="#626262"/><ellipse cx="699" cy="1310.2" rx="2.3" ry="2.2" fill="#606060"/><ellipse cx="690.4" cy="1316" rx="1.6" ry="1.3" fill="#a6a6a6"/><ellipse cx="683.5" cy="1278.6" rx="1.3" ry="1.1" fill="#5f5f5f"/><ellipse cx="713.7" cy="1317.2" rx="1.8" ry="1.1" fill="#848484"/><ellipse cx="672.2" cy="1319" rx="1.6" ry="1.5" fill="#a3a3a3"/><ellipse cx="675.2" cy="1270.6" rx="1.8" ry="1.4" fill="#5d5d5d"/><ellipse cx="611.5" cy="1229.4" rx="1.6" ry="1.4" fill="#8c8c8c"/><ellipse cx="660.6" cy="1261.2" rx="1.5" ry="1.3" fill="#b2b2b2"/><ellipse cx="629.7" cy="1292.2" rx="1.4" ry="1.1" fill="#696969"/></g>
<g filter="url(#fh)"><rect x="736" y="1224.4" width="114.7" height="107.2" fill="#080808"/><ellipse cx="767" cy="1307.7" rx="2.3" ry="2.3" fill="#c4c4c4"/><ellipse cx="758.5" cy="1274.3" rx="1.9" ry="1.9" fill="#b9b9b9"/><ellipse cx="757.9" cy="1276.6" rx="1.9" ry="1.5" fill="#ababab"/><ellipse cx="774.2" cy="1307.7" rx="1.6" ry="1.2" fill="#dbdbdb"/><ellipse cx="760.2" cy="1291.8" rx="2.3" ry="1.7" fill="#b5b5b5"/><ellipse cx="818.9" cy="1302.1" rx="2.4" ry="1.9" fill="#818181"/><ellipse cx="755" cy="1266.2" rx="1.7" ry="1.7" fill="#ababab"/><ellipse cx="764.9" cy="1300.6" rx="2.5" ry="2.3" fill="#e1e1e1"/><ellipse cx="756.7" cy="1277.4" rx="1.8" ry="1.3" fill="#797979"/><ellipse cx="824.5" cy="1297.6" rx="2.1" ry="1.5" fill="#bcbcbc"/><ellipse cx="799.2" cy="1314.9" rx="2.4" ry="2" fill="#8e8e8e"/><ellipse cx="782.2" cy="1316.2" rx="1.4" ry="1.4" fill="#696969"/><ellipse cx="757.2" cy="1295.2" rx="1.3" ry="1.2" fill="#959595"/><ellipse cx="773.8" cy="1307.4" rx="1.4" ry="1" fill="#e0e0e0"/><ellipse cx="815.7" cy="1311.1" rx="2.5" ry="2.5" fill="#929292"/><ellipse cx="797.4" cy="1316.5" rx="2.3" ry="1.7" fill="#c5c5c5"/><ellipse cx="817.2" cy="1285.1" rx="1.2" ry="1.2" fill="#535353"/><ellipse cx="780.6" cy="1269" rx="2.3" ry="1.8" fill="#939393"/><ellipse cx="797" cy="1249.9" rx="1.6" ry="1.2" fill="#525252"/><ellipse cx="765.2" cy="1274.1" rx="2.4" ry="1.8" fill="#505050"/><ellipse cx="832.4" cy="1264.1" rx="1.7" ry="1.3" fill="#7a7a7a"/><ellipse cx="819.5" cy="1259.1" rx="1.7" ry="1.2" fill="#939393"/><ellipse cx="755.8" cy="1261.5" rx="2.2" ry="1.6" fill="#848484"/><ellipse cx="829.5" cy="1270.3" rx="2.1" ry="1.6" fill="#6e6e6e"/><ellipse cx="765.2" cy="1284.1" rx="1.6" ry="1.3" fill="#999999"/><ellipse cx="789.6" cy="1261.2" rx="2.1" ry="1.8" fill="#636363"/><ellipse cx="785.6" cy="1239.2" rx="1.7" ry="1.6" fill="#969696"/><ellipse cx="803.5" cy="1261.9" rx="1.6" ry="1.2" fill="#616161"/><ellipse cx="816" cy="1285.6" rx="1.6" ry="1.5" fill="#888888"/><ellipse cx="809" cy="1272.5" rx="2.1" ry="1.7" fill="#828282"/><ellipse cx="824.3" cy="1298.5" rx="1.6" ry="1.3" fill="#737373"/><ellipse cx="802.6" cy="1226.9" rx="2.3" ry="2" fill="#8a8a8a"/><ellipse cx="789.1" cy="1311.9" rx="1.6" ry="1.4" fill="#939393"/><ellipse cx="809.9" cy="1303.5" rx="2.2" ry="1.6" fill="#a3a3a3"/><ellipse cx="835.8" cy="1298.2" rx="1.7" ry="1.6" fill="#b0b0b0"/><ellipse cx="796.7" cy="1242.2" rx="2.4" ry="1.9" fill="#a4a4a4"/><ellipse cx="815.3" cy="1301.6" rx="2.3" ry="1.8" fill="#9a9a9a"/><ellipse cx="802.6" cy="1295.7" rx="1.5" ry="1.4" fill="#7f7f7f"/><ellipse cx="809" cy="1301.6" rx="2" ry="1.8" fill="#5c5c5c"/><ellipse cx="810.6" cy="1247.9" rx="1.5" ry="1.1" fill="#969696"/><ellipse cx="790.1" cy="1248.7" rx="2" ry="1.2" fill="#5e5e5e"/><ellipse cx="756.8" cy="1245.1" rx="1.4" ry="1.1" fill="#5c5c5c"/><ellipse cx="806.2" cy="1287.7" rx="1.8" ry="1.4" fill="#6e6e6e"/><ellipse cx="782.5" cy="1254.3" rx="2.3" ry="1.4" fill="#7e7e7e"/><ellipse cx="778.9" cy="1228.3" rx="1.4" ry="1.3" fill="#909090"/><ellipse cx="774.9" cy="1286.7" rx="1.4" ry="1.1" fill="#afafaf"/></g>
<rect x="770" y="1338.2" width="80.7" height="4.6" fill="#000"/>
<rect x="220.4" y="1350.4" width="239.1" height="25" fill="url(#gh1)" stroke="#444" stroke-width="1"/>
<path d="M239,1375.4v-6M284.7,1375.4v-6M330,1375.4v-6M375.7,1375.4v-6M421.5,1375.4v-6" fill="none" stroke="#151515" stroke-width="2"/>
<text x="239" y="1405.5" text-anchor="middle" class="t">5</text>
<text x="284.7" y="1405.5" text-anchor="middle" class="t">10</text>
<text x="330" y="1405.5" text-anchor="middle" class="t">15</text>
<text x="375.7" y="1405.5" text-anchor="middle" class="t">20</text>
<text x="421.5" y="1405.5" text-anchor="middle" class="t">25</text>
<text x="468.8" y="1405.5" textLength="38" lengthAdjust="spacing" class="t">dB</text>
<text x="1573.8" y="1173.8" textLength="310.5" lengthAdjust="spacing" class="t">[L-arabinose] (%w/v)</text>
<text x="1433.1" y="1217.4" text-anchor="middle" class="t">0</text>
<text x="1563.2" y="1217.4" text-anchor="middle" textLength="77.5" lengthAdjust="spacing" class="t">0.001</text>
<text x="1693.4" y="1217.4" text-anchor="middle" textLength="60" lengthAdjust="spacing" class="t">0.01</text>
<text x="1823" y="1217.4" text-anchor="middle" textLength="41.4" lengthAdjust="spacing" class="t">0.1</text>
<text x="1953.2" y="1217.4" text-anchor="middle" class="t">1</text>
<g filter="url(#fp)"><rect x="1376.2" y="1226.4" width="114.6" height="114.7" fill="#000000"/><ellipse cx="1396.9" cy="1260.2" rx="3.1" ry="2.6" fill="#a6a6a6"/><ellipse cx="1403.1" cy="1249.8" rx="2.4" ry="2.2" fill="#bcbcbc"/><ellipse cx="1380.5" cy="1253.1" rx="1.7" ry="1.6" fill="#b5b5b5"/><ellipse cx="1420.4" cy="1262.8" rx="2.6" ry="1.9" fill="#818181"/><ellipse cx="1400.4" cy="1246.4" rx="1.9" ry="1.5" fill="#828282"/><ellipse cx="1397.5" cy="1256.9" rx="2.9" ry="2.5" fill="#b0b0b0"/><ellipse cx="1399.1" cy="1263" rx="2.3" ry="1.8" fill="#cccccc"/><ellipse cx="1408.6" cy="1253.4" rx="2" ry="1.5" fill="#858585"/><ellipse cx="1411.3" cy="1255.8" rx="3" ry="2.4" fill="#c9c9c9"/><ellipse cx="1472.8" cy="1277.1" rx="2.2" ry="1.6" fill="#b0b0b0"/><ellipse cx="1481.3" cy="1244.5" rx="1.7" ry="1.4" fill="#c9c9c9"/><ellipse cx="1480.7" cy="1237.5" rx="2" ry="1.5" fill="#848484"/><ellipse cx="1481.8" cy="1240.3" rx="2.5" ry="2.1" fill="#8e8e8e"/><ellipse cx="1480" cy="1238.1" rx="2.6" ry="1.9" fill="#a0a0a0"/><ellipse cx="1465.7" cy="1244.5" rx="3.2" ry="3" fill="#979797"/><ellipse cx="1421.4" cy="1324.4" rx="3" ry="2.1" fill="#b1b1b1"/><ellipse cx="1400.6" cy="1256" rx="1.8" ry="1.8" fill="#bbbbbb"/><ellipse cx="1384.6" cy="1236.7" rx="2.1" ry="1.5" fill="#acacac"/><ellipse cx="1418.8" cy="1278.4" rx="2" ry="1.7" fill="#c9c9c9"/><ellipse cx="1475.5" cy="1247.4" rx="2.4" ry="2" fill="#8b8b8b"/><ellipse cx="1404.8" cy="1248.2" rx="3.1" ry="2.8" fill="#b8b8b8"/><ellipse cx="1485.1" cy="1327.6" rx="3.1" ry="2.1" fill="#aeaeae"/><ellipse cx="1380.6" cy="1336.8" rx="2.3" ry="1.5" fill="#929292"/><ellipse cx="1470.6" cy="1294.8" rx="2.7" ry="1.9" fill="#969696"/><ellipse cx="1384.1" cy="1252.6" rx="1.9" ry="1.7" fill="#aaaaaa"/><ellipse cx="1408.3" cy="1331.6" rx="3" ry="2.5" fill="#8f8f8f"/><ellipse cx="1427.3" cy="1233.3" rx="1.6" ry="1.2" fill="#8d8d8d"/><ellipse cx="1391.3" cy="1267.9" rx="2.2" ry="1.8" fill="#c4c4c4"/><ellipse cx="1455.4" cy="1293.4" rx="3.2" ry="2.7" fill="#8a8a8a"/><ellipse cx="1480.5" cy="1306.8" rx="1.7" ry="1" fill="#c9c9c9"/><ellipse cx="1431.5" cy="1310.2" rx="1.6" ry="1.4" fill="#989898"/></g>
<g filter="url(#fp)"><rect x="1505.7" y="1226.4" width="114.6" height="114.7" fill="#000000"/><ellipse cx="1566.1" cy="1327.1" rx="2.5" ry="1.9" fill="#5a5a5a"/><ellipse cx="1577" cy="1322.2" rx="2.7" ry="2.5" fill="#8f8f8f"/><ellipse cx="1556" cy="1326.7" rx="1.7" ry="1.4" fill="#686868"/><ellipse cx="1527.3" cy="1300.4" rx="2.7" ry="2" fill="#979797"/><ellipse cx="1581.4" cy="1321.3" rx="2.8" ry="1.9" fill="#5f5f5f"/><ellipse cx="1524.1" cy="1300.8" rx="1.6" ry="1.6" fill="#aeaeae"/><ellipse cx="1600" cy="1303.4" rx="1.7" ry="1.4" fill="#919191"/><ellipse cx="1598.3" cy="1309.6" rx="1.6" ry="1.2" fill="#a2a2a2"/><ellipse cx="1574.5" cy="1324" rx="2.4" ry="2" fill="#7c7c7c"/><ellipse cx="1605.5" cy="1295" rx="3" ry="2.9" fill="#949494"/><ellipse cx="1579.2" cy="1322" rx="2.5" ry="2.3" fill="#636363"/><ellipse cx="1591" cy="1314.4" rx="2.3" ry="2.1" fill="#868686"/><ellipse cx="1606.2" cy="1294.9" rx="2.1" ry="1.8" fill="#6d6d6d"/><ellipse cx="1571.4" cy="1324.6" rx="2.7" ry="1.9" fill="#8a8a8a"/><ellipse cx="1597.2" cy="1311" rx="1.6" ry="1.2" fill="#787878"/><ellipse cx="1548.3" cy="1320.3" rx="2.2" ry="1.7" fill="#727272"/><ellipse cx="1566" cy="1329.2" rx="2.2" ry="2.2" fill="#686868"/><ellipse cx="1524.6" cy="1299.4" rx="1.8" ry="1.6" fill="#ababab"/><ellipse cx="1603.1" cy="1291.6" rx="2.7" ry="2.1" fill="#6f6f6f"/><ellipse cx="1601.5" cy="1291.5" rx="2.4" ry="2.4" fill="#b2b2b2"/><ellipse cx="1562.6" cy="1323" rx="2" ry="1.9" fill="#a4a4a4"/><ellipse cx="1547.6" cy="1321.3" rx="2.3" ry="1.9" fill="#919191"/><ellipse cx="1565.3" cy="1275.7" rx="42.4" ry="26.4" fill="url(#vg1)"/><ellipse cx="1608.2" cy="1245" rx="2" ry="2" fill="#969696"/><ellipse cx="1613.9" cy="1285.5" rx="3" ry="2.1" fill="#b5b5b5"/><ellipse cx="1538.4" cy="1255.6" rx="2.7" ry="1.9" fill="#b4b4b4"/><ellipse cx="1607.3" cy="1274.6" rx="2.7" ry="1.8" fill="#929292"/><ellipse cx="1569.9" cy="1298.1" rx="2.3" ry="2.3" fill="#c6c6c6"/><ellipse cx="1553.6" cy="1293.9" rx="3.1" ry="2.8" fill="#c4c4c4"/><ellipse cx="1545.5" cy="1268.7" rx="2.9" ry="2.4" fill="#b8b8b8"/><ellipse cx="1587.1" cy="1330.1" rx="2.5" ry="1.5" fill="#bdbdbd"/><ellipse cx="1567" cy="1316.9" rx="3" ry="2.9" fill="#9d9d9d"/><ellipse cx="1541.5" cy="1333.5" rx="1.8" ry="1.3" fill="#b4b4b4"/><ellipse cx="1520" cy="1287.7" rx="2.5" ry="2.1" fill="#b5b5b5"/><ellipse cx="1552.3" cy="1263.5" rx="2.2" ry="1.6" fill="#b4b4b4"/><ellipse cx="1541.5" cy="1306.2" rx="1.8" ry="1.2" fill="#bababa"/><ellipse cx="1547.6" cy="1229.8" rx="2.7" ry="2.6" fill="#a5a5a5"/><ellipse cx="1582.2" cy="1265.5" rx="2.3" ry="1.6" fill="#929292"/><ellipse cx="1508.3" cy="1267.7" rx="2.1" ry="2.1" fill="#959595"/></g>
<g filter="url(#fp)"><rect x="1635.1" y="1226.4" width="114.6" height="114.7" fill="#000000"/><ellipse cx="1719.7" cy="1317.4" rx="2.5" ry="2.4" fill="#6a6a6a"/><ellipse cx="1719.8" cy="1312.9" rx="1.8" ry="1.7" fill="#656565"/><ellipse cx="1691.4" cy="1323.1" rx="1.9" ry="1.6" fill="#a4a4a4"/><ellipse cx="1684" cy="1320.4" rx="1.9" ry="1.4" fill="#a7a7a7"/><ellipse cx="1663.6" cy="1312.6" rx="2.7" ry="2.5" fill="#aeaeae"/><ellipse cx="1667.3" cy="1311.6" rx="2.8" ry="2.3" fill="#9d9d9d"/><ellipse cx="1687.8" cy="1324" rx="2" ry="1.7" fill="#757575"/><ellipse cx="1730.6" cy="1305.8" rx="2.7" ry="2.7" fill="#979797"/><ellipse cx="1688.6" cy="1326.1" rx="1.7" ry="1.5" fill="#818181"/><ellipse cx="1723.8" cy="1309" rx="2.3" ry="1.8" fill="#828282"/><ellipse cx="1683.6" cy="1322.7" rx="1.7" ry="1.4" fill="#6e6e6e"/><ellipse cx="1719.6" cy="1313.5" rx="2" ry="1.5" fill="#939393"/><ellipse cx="1658.2" cy="1297.5" rx="2.6" ry="2.5" fill="#5d5d5d"/><ellipse cx="1729.1" cy="1308.1" rx="2.8" ry="2.5" fill="#686868"/><ellipse cx="1704.6" cy="1326.1" rx="2.8" ry="2.7" fill="#6b6b6b"/><ellipse cx="1662.8" cy="1307.1" rx="2.6" ry="1.9" fill="#b0b0b0"/><ellipse cx="1683.2" cy="1324.8" rx="1.8" ry="1.6" fill="#8d8d8d"/><ellipse cx="1685.1" cy="1322.9" rx="2.6" ry="2.1" fill="#747474"/><ellipse cx="1727" cy="1309.8" rx="1.7" ry="1.3" fill="#5f5f5f"/><ellipse cx="1679.4" cy="1322.3" rx="2.3" ry="1.6" fill="#808080"/><ellipse cx="1710.1" cy="1319.1" rx="1.5" ry="1.5" fill="#646464"/><ellipse cx="1714.4" cy="1318" rx="2.4" ry="1.7" fill="#838383"/><ellipse cx="1695.8" cy="1279.2" rx="35.5" ry="28.7" fill="url(#vg2)"/><ellipse cx="1637.8" cy="1264.8" rx="2.2" ry="2" fill="#a5a5a5"/><ellipse cx="1689.4" cy="1303.2" rx="3.2" ry="2.5" fill="#969696"/><ellipse cx="1739.4" cy="1311.1" rx="1.7" ry="1.3" fill="#939393"/><ellipse cx="1664.7" cy="1293.8" rx="2.7" ry="2.5" fill="#9b9b9b"/><ellipse cx="1658.5" cy="1266.6" rx="2" ry="1.4" fill="#828282"/><ellipse cx="1722" cy="1295.2" rx="2.2" ry="1.4" fill="#808080"/><ellipse cx="1690.2" cy="1290" rx="2.8" ry="1.9" fill="#999999"/><ellipse cx="1650.8" cy="1325.5" rx="2.1" ry="1.6" fill="#888888"/><ellipse cx="1669.9" cy="1270.9" rx="2.9" ry="2" fill="#828282"/><ellipse cx="1685.7" cy="1326.9" rx="1.8" ry="1.3" fill="#cbcbcb"/><ellipse cx="1649.9" cy="1318.6" rx="1.7" ry="1.4" fill="#989898"/><ellipse cx="1649.5" cy="1229.4" rx="3" ry="2.5" fill="#929292"/><ellipse cx="1690" cy="1269" rx="3" ry="2" fill="#9a9a9a"/><ellipse cx="1717.4" cy="1302.9" rx="2.9" ry="2" fill="#c7c7c7"/></g>
<g filter="url(#fp)"><rect x="1764.6" y="1226.4" width="114.6" height="114.7" fill="#000000"/><ellipse cx="1767.6" cy="1287.3" rx="2.5" ry="2.4" fill="#616161"/><ellipse cx="1770.5" cy="1288.8" rx="2.5" ry="2" fill="#818181"/><ellipse cx="1773.7" cy="1290.7" rx="1.7" ry="1.3" fill="#919191"/><ellipse cx="1772.8" cy="1267" rx="2.7" ry="2.4" fill="#585858"/><ellipse cx="1777.2" cy="1285.5" rx="1.7" ry="1.6" fill="#565656"/><ellipse cx="1772.3" cy="1258.9" rx="1.8" ry="1.8" fill="#6b6b6b"/><ellipse cx="1787.3" cy="1275.2" rx="2.4" ry="2.3" fill="#818181"/><ellipse cx="1767.6" cy="1282.1" rx="2.5" ry="1.8" fill="#545454"/><ellipse cx="1784.7" cy="1278.6" rx="1.8" ry="1.5" fill="#5d5d5d"/><ellipse cx="1782.9" cy="1278" rx="1.7" ry="1.6" fill="#535353"/><ellipse cx="1846.1" cy="1317.3" rx="2.6" ry="1.9" fill="#8e8e8e"/><ellipse cx="1861.5" cy="1303.4" rx="2.5" ry="2.2" fill="#898989"/><ellipse cx="1825.9" cy="1326.9" rx="2.4" ry="1.7" fill="#8a8a8a"/><ellipse cx="1853.5" cy="1318.4" rx="2.9" ry="2.1" fill="#717171"/><ellipse cx="1801.7" cy="1321.2" rx="1.5" ry="1.4" fill="#aeaeae"/><ellipse cx="1832.8" cy="1325.4" rx="2.4" ry="2.3" fill="#7a7a7a"/><ellipse cx="1844.8" cy="1319.4" rx="2.4" ry="2.1" fill="#7a7a7a"/><ellipse cx="1836" cy="1322.4" rx="2" ry="2" fill="#939393"/><ellipse cx="1849.4" cy="1322.3" rx="2" ry="1.6" fill="#696969"/><ellipse cx="1857" cy="1307.7" rx="1.8" ry="1.8" fill="#7a7a7a"/><ellipse cx="1851.3" cy="1318.1" rx="2.9" ry="2.3" fill="#a0a0a0"/><ellipse cx="1839.1" cy="1325" rx="2.4" ry="2.4" fill="#a0a0a0"/><ellipse cx="1823.2" cy="1329.6" rx="2" ry="1.7" fill="#afafaf"/><ellipse cx="1818.7" cy="1328.8" rx="2" ry="1.9" fill="#959595"/><ellipse cx="1852.8" cy="1319.7" rx="2.2" ry="1.8" fill="#7a7a7a"/><ellipse cx="1859.3" cy="1303.6" rx="2.5" ry="1.9" fill="#7a7a7a"/><ellipse cx="1830.3" cy="1327.2" rx="2.1" ry="1.9" fill="#7a7a7a"/><ellipse cx="1838.8" cy="1324.1" rx="1.7" ry="1.3" fill="#717171"/><ellipse cx="1801.3" cy="1317.5" rx="2.5" ry="1.9" fill="#979797"/><ellipse cx="1807.1" cy="1322.6" rx="2.9" ry="2.6" fill="#919191"/><ellipse cx="1824.2" cy="1283.8" rx="40.1" ry="36.7" fill="url(#vg3)"/><ellipse cx="1795.1" cy="1280.3" rx="1.7" ry="1.3" fill="#c7c7c7"/><ellipse cx="1842.5" cy="1333.6" rx="3" ry="1.9" fill="#a9a9a9"/><ellipse cx="1813.5" cy="1338.9" rx="1.8" ry="1.7" fill="#c2c2c2"/><ellipse cx="1772.4" cy="1317.4" rx="2.9" ry="2.8" fill="#979797"/><ellipse cx="1832.1" cy="1228.3" rx="1.8" ry="1.4" fill="#a2a2a2"/><ellipse cx="1825.1" cy="1260.4" rx="2.9" ry="2.3" fill="#cacaca"/><ellipse cx="1838.6" cy="1228.6" rx="2" ry="1.7" fill="#cccccc"/><ellipse cx="1871" cy="1329.7" rx="2" ry="2" fill="#c1c1c1"/><ellipse cx="1804.2" cy="1333.8" rx="2.2" ry="1.7" fill="#828282"/><ellipse cx="1857" cy="1307.4" rx="1.8" ry="1.8" fill="#cacaca"/></g>
<g filter="url(#fp)"><rect x="1894.4" y="1226.4" width="114.6" height="114.7" fill="#000000"/><ellipse cx="1951.7" cy="1287.2" rx="41.3" ry="43.6" fill="url(#vg4)"/><ellipse cx="1966.8" cy="1288.7" rx="3.5" ry="2.4" fill="#222222"/><ellipse cx="1963.3" cy="1320.8" rx="3.5" ry="2.7" fill="#0d0d0d"/><ellipse cx="1965.1" cy="1294.3" rx="2" ry="1.6" fill="#212121"/><ellipse cx="1975.7" cy="1318.1" rx="1.9" ry="1.9" fill="#141414"/><ellipse cx="1934.5" cy="1302.4" rx="2.3" ry="1.7" fill="#161616"/><ellipse cx="1942.7" cy="1307.6" rx="3.4" ry="3" fill="#0f0f0f"/><ellipse cx="1951.1" cy="1324.8" rx="1.5" ry="1.1" fill="#070707"/><ellipse cx="1979.8" cy="1313.1" rx="2.9" ry="2.3" fill="#131313"/><ellipse cx="1949.7" cy="1320" rx="2.6" ry="2.1" fill="#131313"/><ellipse cx="1942.3" cy="1292.2" rx="2.1" ry="2" fill="#0c0c0c"/><ellipse cx="1977.7" cy="1296.9" rx="2.4" ry="1.7" fill="#232323"/><ellipse cx="1970.7" cy="1303.2" rx="1.7" ry="1.5" fill="#0e0e0e"/><ellipse cx="1967.2" cy="1294.6" rx="1.6" ry="1.5" fill="#242424"/><ellipse cx="1929.8" cy="1304.4" rx="2.5" ry="2.4" fill="#020202"/><ellipse cx="1956.2" cy="1302.7" rx="3.1" ry="2.7" fill="#1a1a1a"/><ellipse cx="1936" cy="1285.4" rx="1.5" ry="1.2" fill="#191919"/><ellipse cx="1944" cy="1297.4" rx="2.7" ry="2.5" fill="#171717"/><ellipse cx="1939.6" cy="1319.2" rx="3.1" ry="3" fill="#222222"/><ellipse cx="1934.3" cy="1271" rx="1.6" ry="1.4" fill="#a7a7a7"/><ellipse cx="2006.7" cy="1264.4" rx="1.8" ry="1.3" fill="#c5c5c5"/><ellipse cx="1930.9" cy="1295.8" rx="2.7" ry="2" fill="#b5b5b5"/><ellipse cx="1914.1" cy="1325.1" rx="2.1" ry="1.3" fill="#b7b7b7"/><ellipse cx="1960.4" cy="1264.8" rx="1.8" ry="1.7" fill="#c4c4c4"/><ellipse cx="1933.8" cy="1311" rx="1.8" ry="1.2" fill="#a9a9a9"/><ellipse cx="1939.5" cy="1316.8" rx="2.4" ry="2.3" fill="#808080"/><ellipse cx="1969.5" cy="1322.6" rx="2.9" ry="1.9" fill="#b2b2b2"/><ellipse cx="1980.5" cy="1268.7" rx="2.5" ry="2.1" fill="#919191"/><ellipse cx="1907.7" cy="1287.2" rx="2.5" ry="2" fill="#a3a3a3"/></g>
<rect x="1928.7" y="1347.7" width="80.3" height="4.4" fill="#000"/>
<rect x="1376.7" y="1360.9" width="240.4" height="26.6" fill="url(#gp1)" stroke="#444" stroke-width="1"/>
<path d="M1417.6,1387.5v-6M1493.4,1387.5v-6M1569.5,1387.5v-6" fill="none" stroke="#151515" stroke-width="2"/>
<text x="1417.6" y="1418.5" text-anchor="middle" class="t">20</text>
<text x="1493.4" y="1418.5" text-anchor="middle" class="t">40</text>
<text x="1569.5" y="1418.5" text-anchor="middle" class="t">60</text>
<text x="1620" y="1418.5" textLength="37.2" lengthAdjust="spacing" class="t">dB</text>
<text x="553.5" y="2146.6" textLength="125.3" lengthAdjust="spacing" class="t">Cells/mL</text>
<text x="215.6" y="2185.7" text-anchor="middle" textLength="51.5" lengthAdjust="spacing" class="t">1e4</text>
<text x="315.5" y="2185.7" text-anchor="middle" textLength="51.5" lengthAdjust="spacing" class="t">1e5</text>
<text x="416.2" y="2185.7" text-anchor="middle" textLength="51.5" lengthAdjust="spacing" class="t">1e6</text>
<text x="515.4" y="2185.7" text-anchor="middle" textLength="51.5" lengthAdjust="spacing" class="t">1e7</text>
<text x="614.4" y="2185.7" text-anchor="middle" textLength="51.5" lengthAdjust="spacing" class="t">5e7</text>
<text x="714" y="2185.7" text-anchor="middle" textLength="51.5" lengthAdjust="spacing" class="t">1e8</text>
<text x="813.3" y="2185.7" text-anchor="middle" textLength="51.5" lengthAdjust="spacing" class="t">5e8</text>
<text x="912.9" y="2185.7" text-anchor="middle" textLength="51.5" lengthAdjust="spacing" class="t">1e9</text>
<text x="1013.1" y="2185.7" text-anchor="middle" textLength="51.5" lengthAdjust="spacing" class="t">2e9</text>
<g filter="url(#fh2)"><rect x="173.7" y="2197" width="85" height="79.3" fill="#000000"/><ellipse cx="176.3" cy="2248.8" rx="1.5" ry="1.1" fill="#626262"/><ellipse cx="228.2" cy="2274.8" rx="1.3" ry="1" fill="#7c7c7c"/><ellipse cx="194.3" cy="2202.8" rx="2" ry="2" fill="#5d5d5d"/><ellipse cx="251.7" cy="2274.1" rx="1.8" ry="1.5" fill="#8f8f8f"/><ellipse cx="175.7" cy="2260.9" rx="1.5" ry="1" fill="#919191"/><ellipse cx="231" cy="2247.7" rx="1.8" ry="1.5" fill="#a8a8a8"/><ellipse cx="200" cy="2262.8" rx="1.1" ry="0.9" fill="#a6a6a6"/><ellipse cx="194.4" cy="2221.9" rx="1.3" ry="0.8" fill="#9b9b9b"/></g>
<g filter="url(#fh2)"><rect x="272.9" y="2197" width="85" height="79.3" fill="#000000"/><ellipse cx="306.3" cy="2251.2" rx="1" ry="0.7" fill="#5e5e5e"/><ellipse cx="337.3" cy="2208.7" rx="1.1" ry="0.8" fill="#ababab"/><ellipse cx="318.4" cy="2232.5" rx="1.8" ry="1.2" fill="#818181"/><ellipse cx="275.6" cy="2271.5" rx="2.2" ry="1.4" fill="#808080"/><ellipse cx="303.9" cy="2272.7" rx="1.2" ry="0.9" fill="#676767"/><ellipse cx="319.4" cy="2272.6" rx="1.3" ry="1.1" fill="#b7b7b7"/><ellipse cx="344" cy="2274.8" rx="1.4" ry="1" fill="#505050"/><ellipse cx="328.2" cy="2214.3" rx="1.9" ry="1.8" fill="#b2b2b2"/><ellipse cx="327.4" cy="2214.4" rx="1.9" ry="1.3" fill="#525252"/><ellipse cx="306.6" cy="2248.3" rx="1.4" ry="1" fill="#b7b7b7"/><ellipse cx="355.2" cy="2259.6" rx="2.2" ry="2.1" fill="#747474"/><ellipse cx="319.3" cy="2250.5" rx="1.2" ry="1" fill="#585858"/></g>
<g filter="url(#fh2)"><rect x="373.8" y="2197" width="85" height="79.3" fill="#000000"/><ellipse cx="399.6" cy="2268.4" rx="1.1" ry="0.7" fill="#727272"/><ellipse cx="417.1" cy="2263.9" rx="1.7" ry="1.1" fill="#747474"/><ellipse cx="405.3" cy="2199.4" rx="1.9" ry="1.9" fill="#868686"/><ellipse cx="435.9" cy="2263.8" rx="1.1" ry="0.7" fill="#8c8c8c"/><ellipse cx="380.7" cy="2206.6" rx="2" ry="1.3" fill="#979797"/><ellipse cx="375.5" cy="2200.9" rx="1.1" ry="0.7" fill="#4f4f4f"/><ellipse cx="400.1" cy="2270.7" rx="1.4" ry="0.9" fill="#595959"/><ellipse cx="422.1" cy="2242.7" rx="1.8" ry="1.6" fill="#878787"/><ellipse cx="401.8" cy="2216.4" rx="1.6" ry="1.1" fill="#6b6b6b"/><ellipse cx="379.7" cy="2234.8" rx="2" ry="1.5" fill="#8b8b8b"/></g>
<g filter="url(#fh2)"><rect x="473.9" y="2197" width="85" height="79.3" fill="#030303"/><ellipse cx="543.3" cy="2219" rx="1.7" ry="1.4" fill="#b0b0b0"/><ellipse cx="489.8" cy="2248.7" rx="2.1" ry="2" fill="#ababab"/><ellipse cx="518.8" cy="2232.3" rx="1.6" ry="1.6" fill="#dddddd"/><ellipse cx="500.2" cy="2236.3" rx="1.8" ry="1.3" fill="#555555"/><ellipse cx="510.1" cy="2264.1" rx="1.7" ry="1.5" fill="#dadada"/><ellipse cx="483.9" cy="2201.4" rx="1.7" ry="1.5" fill="#e2e2e2"/><ellipse cx="550.1" cy="2256.5" rx="1.3" ry="0.9" fill="#5f5f5f"/><ellipse cx="497.1" cy="2198.5" rx="1.4" ry="1" fill="#9d9d9d"/><ellipse cx="489.7" cy="2205.7" rx="1.4" ry="1" fill="#525252"/><ellipse cx="521.5" cy="2206.8" rx="2" ry="1.8" fill="#636363"/><ellipse cx="478.8" cy="2218.8" rx="1.1" ry="0.8" fill="#6c6c6c"/><ellipse cx="512.8" cy="2234.5" rx="1.2" ry="1.1" fill="#838383"/></g>
<g filter="url(#fh2)"><rect x="573" y="2197" width="85" height="79.3" fill="#050505"/><ellipse cx="615.5" cy="2232.7" rx="25.5" ry="23.8" fill="#262626"/><ellipse cx="644.7" cy="2268.3" rx="1.6" ry="1.4" fill="#d3d3d3"/><ellipse cx="609" cy="2221.3" rx="1.4" ry="1.4" fill="#5b5b5b"/><ellipse cx="596.3" cy="2245.4" rx="1.6" ry="1.1" fill="#c3c3c3"/><ellipse cx="578.2" cy="2217.2" rx="1.9" ry="1.2" fill="#a1a1a1"/><ellipse cx="652.4" cy="2243.7" rx="2" ry="1.8" fill="#aeaeae"/><ellipse cx="590.5" cy="2239.4" rx="1.4" ry="1" fill="#a9a9a9"/><ellipse cx="609" cy="2216.7" rx="1.7" ry="1.3" fill="#c9c9c9"/><ellipse cx="642" cy="2219.3" rx="1.7" ry="1.5" fill="#5e5e5e"/><ellipse cx="640.3" cy="2229.2" rx="1.3" ry="1.3" fill="#c3c3c3"/><ellipse cx="580.7" cy="2255.8" rx="1.4" ry="1.3" fill="#e2e2e2"/><ellipse cx="584.1" cy="2218.8" rx="1.5" ry="1.2" fill="#707070"/><ellipse cx="598.5" cy="2205.3" rx="1.4" ry="0.9" fill="#9d9d9d"/></g>
<g filter="url(#fh2)"><rect x="672.2" y="2197" width="85" height="79.3" fill="#050505"/><ellipse cx="714.7" cy="2236.7" rx="27.2" ry="27" fill="#4c4c4c"/><ellipse cx="735.7" cy="2265.6" rx="1.7" ry="1.5" fill="#787878"/><ellipse cx="735.7" cy="2256.9" rx="2.2" ry="1.8" fill="#dbdbdb"/><ellipse cx="733.2" cy="2243.4" rx="1.3" ry="1" fill="#bfbfbf"/><ellipse cx="674.1" cy="2254.2" rx="1.4" ry="1.4" fill="#868686"/><ellipse cx="676.6" cy="2215.6" rx="1" ry="0.9" fill="#7e7e7e"/><ellipse cx="678.5" cy="2264.1" rx="1.2" ry="0.8" fill="#595959"/><ellipse cx="749.5" cy="2240.3" rx="1.2" ry="0.8" fill="#cacaca"/><ellipse cx="705.8" cy="2227.8" rx="2.2" ry="1.7" fill="#757575"/></g>
<g filter="url(#fh2)"><rect x="771" y="2197" width="85" height="79.3" fill="#030303"/><ellipse cx="818.6" cy="2236.7" rx="29.3" ry="31.7" fill="#808080"/><ellipse cx="852.5" cy="2269.8" rx="1.4" ry="1.4" fill="#cbcbcb"/><ellipse cx="824.3" cy="2216.6" rx="2.1" ry="1.2" fill="#c3c3c3"/><ellipse cx="817.1" cy="2242.7" rx="1.5" ry="1.3" fill="#cfcfcf"/><ellipse cx="839.5" cy="2267.5" rx="2.2" ry="1.6" fill="#989898"/><ellipse cx="836" cy="2238.6" rx="1.1" ry="0.9" fill="#7e7e7e"/><ellipse cx="846.3" cy="2210.4" rx="1.8" ry="1.3" fill="#b2b2b2"/><ellipse cx="782.8" cy="2266.8" rx="1.5" ry="1.5" fill="#9b9b9b"/></g>
<g filter="url(#fh2)"><rect x="870.8" y="2197" width="85" height="79.3" fill="#030303"/><ellipse cx="919.2" cy="2234.3" rx="30.6" ry="33.3" fill="#999999"/><ellipse cx="923.3" cy="2263.8" rx="1.7" ry="1.1" fill="#bbbbbb"/><ellipse cx="902.2" cy="2238.9" rx="1.5" ry="1.3" fill="#717171"/><ellipse cx="894.8" cy="2227" rx="1.7" ry="1.4" fill="#b1b1b1"/><ellipse cx="953.4" cy="2263.5" rx="1.4" ry="1.4" fill="#6f6f6f"/><ellipse cx="901.5" cy="2252.9" rx="1.1" ry="0.8" fill="#bababa"/><ellipse cx="919.5" cy="2199.7" rx="1.6" ry="1.3" fill="#9c9c9c"/></g>
<g filter="url(#fh2)"><rect x="970.3" y="2197" width="85" height="79.3" fill="#030303"/><ellipse cx="1014.5" cy="2235.1" rx="30.6" ry="33.3" fill="#cccccc"/><ellipse cx="1031.9" cy="2202.3" rx="1.6" ry="1.3" fill="#adadad"/><ellipse cx="984.8" cy="2224.3" rx="1.4" ry="1.2" fill="#818181"/><ellipse cx="1010.5" cy="2273.3" rx="1.3" ry="1.2" fill="#a1a1a1"/><ellipse cx="1015.2" cy="2208.2" rx="1.2" ry="1" fill="#9c9c9c"/><ellipse cx="1015.9" cy="2251.4" rx="1" ry="0.8" fill="#c8c8c8"/><ellipse cx="1010.7" cy="2216.8" rx="1.6" ry="1" fill="#b2b2b2"/><ellipse cx="1035.9" cy="2220.3" rx="1.9" ry="1.2" fill="#797979"/></g>
<g filter="url(#fh2)"><rect x="870.8" y="2292.4" width="85" height="78.3" fill="#050505"/><ellipse cx="873.5" cy="2314.5" rx="1.5" ry="1.4" fill="#969696"/><ellipse cx="900.4" cy="2361.3" rx="1.7" ry="1.1" fill="#6e6e6e"/><ellipse cx="881.8" cy="2342.6" rx="1" ry="1" fill="#7c7c7c"/><ellipse cx="885.8" cy="2339.8" rx="1.5" ry="1.4" fill="#555555"/><ellipse cx="914.4" cy="2357.6" rx="2" ry="1.3" fill="#909090"/><ellipse cx="942.4" cy="2317.1" rx="1.1" ry="1" fill="#868686"/><ellipse cx="884.6" cy="2316.6" rx="1.2" ry="0.8" fill="#8c8c8c"/><ellipse cx="946.8" cy="2308.9" rx="1.5" ry="1.5" fill="#6e6e6e"/></g>
<rect x="995.3" y="2283.3" width="61.6" height="4.4" fill="#000"/>
<text x="34.6" y="2230.2" textLength="85.6" lengthAdjust="spacing" class="t">bARG</text>
<text x="123.2" y="2240.7" font-size="17.5" textLength="28.5" lengthAdjust="spacing" class="t">Ser</text>
<text x="25.5" y="2262.3" textLength="133.8" lengthAdjust="spacing" class="t">+ axe-txe</text>
<text x="92.4" y="2320.9" text-anchor="middle" textLength="39" lengthAdjust="spacing" class="t">FP</text>
<text x="25.5" y="2354" textLength="133.8" lengthAdjust="spacing" class="t">+ axe-txe</text>
<rect x="173.4" y="2384.9" width="240.4" height="26.2" fill="url(#gh2)" stroke="#444" stroke-width="1"/>
<path d="M227.8,2411.1v-6M304.4,2411.1v-6M380.7,2411.1v-6" fill="none" stroke="#151515" stroke-width="2"/>
<text x="227.8" y="2442.6" text-anchor="middle" class="t">10</text>
<text x="304.4" y="2442.6" text-anchor="middle" class="t">20</text>
<text x="380.7" y="2442.6" text-anchor="middle" class="t">30</text>
<text x="417.1" y="2442.6" textLength="35.2" lengthAdjust="spacing" class="t">dB</text>
<text x="1649.5" y="2146.6" textLength="125.3" lengthAdjust="spacing" class="t">Cells/mL</text>
<text x="1313.6" y="2185.1" text-anchor="middle" textLength="51.5" lengthAdjust="spacing" class="t">1e4</text>
<text x="1413.6" y="2185.1" text-anchor="middle" textLength="51.5" lengthAdjust="spacing" class="t">1e5</text>
<text x="1514.2" y="2185.1" text-anchor="middle" textLength="51.5" lengthAdjust="spacing" class="t">1e6</text>
<text x="1613.5" y="2185.1" text-anchor="middle" textLength="51.5" lengthAdjust="spacing" class="t">1e7</text>
<text x="1713.2" y="2185.1" text-anchor="middle" textLength="51.5" lengthAdjust="spacing" class="t">5e7</text>
<text x="1812.3" y="2185.1" text-anchor="middle" textLength="51.5" lengthAdjust="spacing" class="t">1e8</text>
<text x="1911.6" y="2185.1" text-anchor="middle" textLength="51.5" lengthAdjust="spacing" class="t">5e8</text>
<text x="2011" y="2185.1" text-anchor="middle" textLength="51.5" lengthAdjust="spacing" class="t">1e9</text>
<text x="2111.3" y="2185.1" text-anchor="middle" textLength="51.5" lengthAdjust="spacing" class="t">2e9</text>
<g filter="url(#fp)"><rect x="1271.1" y="2195" width="85" height="84.7" fill="#000000"/><ellipse cx="1325.3" cy="2215.5" rx="1.9" ry="1.4" fill="#a4a4a4"/><ellipse cx="1298.1" cy="2252.3" rx="2.6" ry="1.6" fill="#868686"/><ellipse cx="1354.1" cy="2222" rx="1.5" ry="1.4" fill="#8e8e8e"/><ellipse cx="1322.4" cy="2246.5" rx="2.6" ry="1.9" fill="#b0b0b0"/><ellipse cx="1330" cy="2264.9" rx="2.5" ry="2.5" fill="#bcbcbc"/><ellipse cx="1290.4" cy="2217.5" rx="2.1" ry="1.6" fill="#c7c7c7"/><ellipse cx="1348.5" cy="2218" rx="2.2" ry="1.4" fill="#b4b4b4"/><ellipse cx="1288.9" cy="2244" rx="1.9" ry="1.3" fill="#9f9f9f"/><ellipse cx="1340.8" cy="2267.3" rx="2.1" ry="1.9" fill="#afafaf"/><ellipse cx="1346.5" cy="2264" rx="2.6" ry="2" fill="#bebebe"/><ellipse cx="1315" cy="2202.9" rx="1.5" ry="1.2" fill="#9c9c9c"/><ellipse cx="1273.6" cy="2244.7" rx="2" ry="1.2" fill="#9f9f9f"/><ellipse cx="1341.5" cy="2263" rx="2.6" ry="2.4" fill="#919191"/><ellipse cx="1282.7" cy="2226.9" rx="2.2" ry="1.4" fill="#929292"/></g>
<g filter="url(#fp)"><rect x="1371.2" y="2195" width="85" height="84.7" fill="#000000"/><ellipse cx="1385.8" cy="2212" rx="1.5" ry="1.4" fill="#919191"/><ellipse cx="1398.9" cy="2222.8" rx="1.8" ry="1.8" fill="#b7b7b7"/><ellipse cx="1398.7" cy="2215.2" rx="2.1" ry="1.7" fill="#cccccc"/><ellipse cx="1392.6" cy="2224.2" rx="2.4" ry="1.7" fill="#939393"/><ellipse cx="1395.8" cy="2219.9" rx="1.5" ry="1.4" fill="#9c9c9c"/><ellipse cx="1407.8" cy="2204.1" rx="2.3" ry="1.9" fill="#c0c0c0"/><ellipse cx="1395.4" cy="2222.3" rx="2.6" ry="2.4" fill="#bfbfbf"/><ellipse cx="1410.3" cy="2214.3" rx="1.5" ry="1.5" fill="#a3a3a3"/><ellipse cx="1406.5" cy="2212" rx="1.3" ry="1" fill="#c9c9c9"/><ellipse cx="1417.9" cy="2210.1" rx="1.4" ry="1.4" fill="#9b9b9b"/><ellipse cx="1436.1" cy="2250.2" rx="1.9" ry="1.2" fill="#cbcbcb"/><ellipse cx="1453.3" cy="2273.9" rx="2.4" ry="2.2" fill="#b1b1b1"/><ellipse cx="1440.4" cy="2273.4" rx="2" ry="1.6" fill="#bfbfbf"/><ellipse cx="1407" cy="2202.4" rx="2.4" ry="1.5" fill="#acacac"/><ellipse cx="1444.1" cy="2214.1" rx="2.1" ry="1.7" fill="#b7b7b7"/><ellipse cx="1453.6" cy="2199.5" rx="2.1" ry="1.4" fill="#a3a3a3"/><ellipse cx="1453.7" cy="2241.7" rx="2" ry="1.7" fill="#c3c3c3"/><ellipse cx="1383.7" cy="2249.2" rx="1.7" ry="1.3" fill="#a0a0a0"/><ellipse cx="1410.7" cy="2276.2" rx="2.3" ry="1.5" fill="#808080"/><ellipse cx="1432.9" cy="2242.2" rx="2.2" ry="1.9" fill="#a6a6a6"/></g>
<g filter="url(#fp)"><rect x="1472.2" y="2195" width="85" height="84.7" fill="#000000"/><ellipse cx="1525.8" cy="2224" rx="2.5" ry="2.1" fill="#c6c6c6"/><ellipse cx="1504.5" cy="2212.8" rx="1.7" ry="1.6" fill="#828282"/><ellipse cx="1492.1" cy="2216.2" rx="2.3" ry="1.9" fill="#c1c1c1"/><ellipse cx="1540.9" cy="2227.5" rx="2.2" ry="2.1" fill="#a9a9a9"/><ellipse cx="1486.1" cy="2225.4" rx="2" ry="1.5" fill="#878787"/><ellipse cx="1489" cy="2232" rx="2.4" ry="2.1" fill="#a0a0a0"/><ellipse cx="1521" cy="2225.7" rx="1.9" ry="1.4" fill="#898989"/><ellipse cx="1488.7" cy="2210.8" rx="2.1" ry="1.6" fill="#aaaaaa"/><ellipse cx="1505.6" cy="2226.4" rx="2.3" ry="2.1" fill="#8b8b8b"/><ellipse cx="1532.2" cy="2222.9" rx="2.5" ry="2.4" fill="#929292"/><ellipse cx="1523.2" cy="2237.7" rx="2.3" ry="2.2" fill="#a8a8a8"/><ellipse cx="1522.1" cy="2208.8" rx="2.2" ry="1.6" fill="#b7b7b7"/><ellipse cx="1537.8" cy="2219.9" rx="1.4" ry="1" fill="#a7a7a7"/><ellipse cx="1487.1" cy="2233.6" rx="2.1" ry="1.8" fill="#b3b3b3"/><ellipse cx="1486.7" cy="2223.1" rx="1.4" ry="1.2" fill="#bcbcbc"/><ellipse cx="1486.9" cy="2231.7" rx="2.6" ry="2.1" fill="#8f8f8f"/><ellipse cx="1493.6" cy="2237.1" rx="1.4" ry="1.3" fill="#949494"/><ellipse cx="1527.9" cy="2239.1" rx="2.4" ry="1.8" fill="#a9a9a9"/><ellipse cx="1498" cy="2238.6" rx="1.7" ry="1.3" fill="#9f9f9f"/><ellipse cx="1482.3" cy="2214.3" rx="2.2" ry="1.8" fill="#8e8e8e"/><ellipse cx="1540" cy="2215.7" rx="2.3" ry="2.1" fill="#aaaaaa"/><ellipse cx="1520.6" cy="2227.7" rx="2.4" ry="2.2" fill="#949494"/><ellipse cx="1550.6" cy="2204.8" rx="2.2" ry="1.7" fill="#a2a2a2"/><ellipse cx="1534" cy="2271.2" rx="2.6" ry="1.6" fill="#aeaeae"/><ellipse cx="1494.6" cy="2238.9" rx="1.4" ry="1.3" fill="#bebebe"/><ellipse cx="1482.1" cy="2224" rx="1.7" ry="1.2" fill="#878787"/><ellipse cx="1476.9" cy="2239.7" rx="2.2" ry="2.1" fill="#bcbcbc"/><ellipse cx="1517.3" cy="2252.8" rx="2.3" ry="1.6" fill="#a7a7a7"/><ellipse cx="1554.1" cy="2205.6" rx="2.6" ry="2.5" fill="#818181"/><ellipse cx="1494.8" cy="2215.6" rx="2.1" ry="1.7" fill="#bcbcbc"/><ellipse cx="1482.6" cy="2256" rx="2.3" ry="1.4" fill="#a0a0a0"/><ellipse cx="1500.2" cy="2201.6" rx="1.5" ry="1.5" fill="#9f9f9f"/><ellipse cx="1537.3" cy="2201.9" rx="1.8" ry="1.6" fill="#a4a4a4"/><ellipse cx="1547.7" cy="2271.3" rx="2.5" ry="2" fill="#bdbdbd"/></g>
<g filter="url(#fp)"><rect x="1572.2" y="2195" width="85" height="84.7" fill="#000000"/><ellipse cx="1622.7" cy="2255.7" rx="1.7" ry="1.6" fill="#949494"/><ellipse cx="1616.1" cy="2251.8" rx="2.1" ry="2" fill="#4f4f4f"/><ellipse cx="1631.5" cy="2239.7" rx="2.1" ry="1.6" fill="#686868"/><ellipse cx="1610.7" cy="2238.9" rx="1.4" ry="1.2" fill="#7e7e7e"/><ellipse cx="1602.3" cy="2249.9" rx="2.4" ry="1.7" fill="#626262"/><ellipse cx="1586.9" cy="2250.3" rx="1.7" ry="1.4" fill="#5f5f5f"/><ellipse cx="1633.5" cy="2252.4" rx="1.7" ry="1.6" fill="#5e5e5e"/><ellipse cx="1604.1" cy="2257.5" rx="1.5" ry="1.1" fill="#4f4f4f"/><ellipse cx="1626.4" cy="2254" rx="1.3" ry="1.1" fill="#6b6b6b"/><ellipse cx="1603" cy="2239.1" rx="1.7" ry="1.2" fill="#939393"/><ellipse cx="1614.7" cy="2228.9" rx="28.1" ry="12.7" fill="url(#kg4)"/><ellipse cx="1626.7" cy="2250.7" rx="1.6" ry="1.3" fill="#a4a4a4"/><ellipse cx="1587" cy="2212" rx="2" ry="1.9" fill="#979797"/><ellipse cx="1605.3" cy="2201.6" rx="2.3" ry="1.7" fill="#898989"/><ellipse cx="1611.3" cy="2215.1" rx="2.1" ry="1.5" fill="#979797"/><ellipse cx="1625.2" cy="2236.2" rx="1.5" ry="1.5" fill="#919191"/><ellipse cx="1583.6" cy="2210.3" rx="2.4" ry="2" fill="#c8c8c8"/><ellipse cx="1580.4" cy="2269" rx="1.7" ry="1.3" fill="#929292"/><ellipse cx="1617.9" cy="2226.8" rx="2" ry="1.8" fill="#939393"/><ellipse cx="1624.6" cy="2276.1" rx="2.2" ry="1.5" fill="#c6c6c6"/><ellipse cx="1585.6" cy="2263.9" rx="2.2" ry="1.8" fill="#c5c5c5"/><ellipse cx="1617.4" cy="2231.6" rx="1.8" ry="1.1" fill="#c0c0c0"/><ellipse cx="1617.4" cy="2235.7" rx="2.3" ry="1.8" fill="#b2b2b2"/></g>
<g filter="url(#fp)"><rect x="1671.4" y="2195" width="85" height="84.7" fill="#000000"/><ellipse cx="1717.7" cy="2253.9" rx="2.4" ry="1.9" fill="#6f6f6f"/><ellipse cx="1719.2" cy="2251.9" rx="2.3" ry="2.2" fill="#848484"/><ellipse cx="1717.2" cy="2256.3" rx="1.9" ry="1.6" fill="#949494"/><ellipse cx="1698.5" cy="2247" rx="2.4" ry="1.9" fill="#626262"/><ellipse cx="1709.7" cy="2262.4" rx="1.7" ry="1.2" fill="#616161"/><ellipse cx="1740.6" cy="2259" rx="1.4" ry="1.1" fill="#989898"/><ellipse cx="1727.5" cy="2253.2" rx="1.9" ry="1.9" fill="#5f5f5f"/><ellipse cx="1712.9" cy="2248.9" rx="1.6" ry="1.3" fill="#6d6d6d"/><ellipse cx="1740.7" cy="2251.5" rx="1.2" ry="1.2" fill="#939393"/><ellipse cx="1737.2" cy="2250.1" rx="1.6" ry="1.5" fill="#535353"/><ellipse cx="1716.5" cy="2230.6" rx="31.4" ry="17.8" fill="url(#kg5)"/><ellipse cx="1690.9" cy="2234.2" rx="1.4" ry="1.1" fill="#8c8c8c"/><ellipse cx="1700.8" cy="2220.8" rx="2.5" ry="2" fill="#949494"/><ellipse cx="1738.6" cy="2273.9" rx="2.3" ry="2.1" fill="#aeaeae"/><ellipse cx="1682.7" cy="2226" rx="1.8" ry="1.4" fill="#a5a5a5"/><ellipse cx="1679.7" cy="2240.4" rx="2.4" ry="2" fill="#999999"/><ellipse cx="1722" cy="2250.7" rx="2.3" ry="2.2" fill="#a0a0a0"/><ellipse cx="1737.1" cy="2242.2" rx="1.7" ry="1.5" fill="#c7c7c7"/><ellipse cx="1680.4" cy="2276.4" rx="2.4" ry="2.1" fill="#878787"/><ellipse cx="1686.5" cy="2254.2" rx="1.6" ry="1" fill="#aaaaaa"/><ellipse cx="1734.6" cy="2221.9" rx="1.5" ry="1" fill="#909090"/></g>
<g filter="url(#fp)"><rect x="1770.3" y="2195" width="85" height="84.7" fill="#000000"/><ellipse cx="1792" cy="2260" rx="2.2" ry="2" fill="#646464"/><ellipse cx="1804" cy="2259.7" rx="2.4" ry="2.1" fill="#767676"/><ellipse cx="1806.1" cy="2254.4" rx="2.1" ry="1.7" fill="#757575"/><ellipse cx="1820.6" cy="2258.2" rx="1.2" ry="1" fill="#828282"/><ellipse cx="1817" cy="2261.7" rx="1.3" ry="1" fill="#737373"/><ellipse cx="1827.5" cy="2250.8" rx="2.1" ry="1.7" fill="#646464"/><ellipse cx="1838.6" cy="2252.8" rx="1.6" ry="1.2" fill="#707070"/><ellipse cx="1833.2" cy="2251.3" rx="1.9" ry="1.6" fill="#646464"/><ellipse cx="1817" cy="2230.6" rx="28.1" ry="17.8" fill="url(#kg6)"/><ellipse cx="1805.6" cy="2234.8" rx="1.5" ry="1.3" fill="#aeaeae"/><ellipse cx="1846" cy="2216.5" rx="1.4" ry="1.3" fill="#bebebe"/><ellipse cx="1793.2" cy="2202.1" rx="2.2" ry="1.6" fill="#9f9f9f"/><ellipse cx="1811.2" cy="2241.5" rx="1.9" ry="1.5" fill="#898989"/><ellipse cx="1810.5" cy="2209.8" rx="1.6" ry="1.3" fill="#959595"/><ellipse cx="1832.1" cy="2225.1" rx="2.6" ry="2.4" fill="#a0a0a0"/><ellipse cx="1824.7" cy="2198" rx="2.2" ry="1.8" fill="#b6b6b6"/><ellipse cx="1815.4" cy="2275.4" rx="1.6" ry="1.1" fill="#9f9f9f"/></g>
<g filter="url(#fp)"><rect x="1869.4" y="2195" width="85" height="84.7" fill="#000000"/><ellipse cx="1879.6" cy="2242.6" rx="1.8" ry="1.5" fill="#a1a1a1"/><ellipse cx="1879.9" cy="2240.6" rx="1.5" ry="1.2" fill="#6b6b6b"/><ellipse cx="1898" cy="2263.4" rx="1.4" ry="1.3" fill="#767676"/><ellipse cx="1880.7" cy="2245.3" rx="1.7" ry="1.2" fill="#727272"/><ellipse cx="1883.5" cy="2246.7" rx="1.9" ry="1.7" fill="#888888"/><ellipse cx="1894.4" cy="2257.2" rx="2" ry="1.4" fill="#767676"/><ellipse cx="1897.1" cy="2259" rx="1.4" ry="1.2" fill="#979797"/><ellipse cx="1945.4" cy="2240.4" rx="1.9" ry="1.3" fill="#919191"/><ellipse cx="1944.8" cy="2239.9" rx="1.9" ry="1.6" fill="#828282"/><ellipse cx="1888.9" cy="2253.5" rx="1.8" ry="1.5" fill="#696969"/><ellipse cx="1883.7" cy="2246.9" rx="2.1" ry="1.8" fill="#676767"/><ellipse cx="1929.5" cy="2259.7" rx="1.8" ry="1.7" fill="#686868"/><ellipse cx="1884" cy="2253.3" rx="1.4" ry="1.2" fill="#6a6a6a"/><ellipse cx="1904.4" cy="2263.8" rx="1.5" ry="1.4" fill="#797979"/><ellipse cx="1911.9" cy="2232.3" rx="29.7" ry="23.7" fill="url(#kg7)"/><ellipse cx="1932.7" cy="2220.5" rx="1.4" ry="1.1" fill="#909090"/><ellipse cx="1880.7" cy="2208.9" rx="2.2" ry="1.9" fill="#afafaf"/><ellipse cx="1923.8" cy="2250.9" rx="2.3" ry="1.5" fill="#838383"/><ellipse cx="1878.5" cy="2206.4" rx="2.2" ry="1.7" fill="#939393"/><ellipse cx="1918.8" cy="2268.5" rx="2.2" ry="1.5" fill="#ababab"/><ellipse cx="1951" cy="2275.3" rx="2.2" ry="1.4" fill="#c1c1c1"/><ellipse cx="1933.3" cy="2206.3" rx="1.6" ry="1.3" fill="#8a8a8a"/><ellipse cx="1947.7" cy="2230.6" rx="2.5" ry="2" fill="#c7c7c7"/></g>
<g filter="url(#fp)"><rect x="1968.8" y="2195" width="85" height="84.7" fill="#000000"/><ellipse cx="2043.5" cy="2246.3" rx="1.2" ry="1" fill="#bdbdbd"/><ellipse cx="2031" cy="2264.7" rx="2" ry="1.9" fill="#747474"/><ellipse cx="1991" cy="2261.5" rx="1.9" ry="1.6" fill="#bdbdbd"/><ellipse cx="1996.9" cy="2266" rx="2" ry="1.7" fill="#b1b1b1"/><ellipse cx="2000.6" cy="2266.6" rx="1.4" ry="1.2" fill="#7f7f7f"/><ellipse cx="2003.5" cy="2266.6" rx="2.1" ry="1.9" fill="#8f8f8f"/><ellipse cx="2009.7" cy="2266.4" rx="2.4" ry="2.3" fill="#919191"/><ellipse cx="2034.6" cy="2258.7" rx="2" ry="1.6" fill="#bbbbbb"/><ellipse cx="2042" cy="2246.6" rx="1.8" ry="1.3" fill="#969696"/><ellipse cx="2004.9" cy="2266.3" rx="2.4" ry="1.9" fill="#8f8f8f"/><ellipse cx="2003" cy="2265.7" rx="1.8" ry="1.3" fill="#777777"/><ellipse cx="1995.5" cy="2262.9" rx="1.4" ry="1.1" fill="#939393"/><ellipse cx="2039.8" cy="2254.7" rx="2.1" ry="2" fill="#767676"/><ellipse cx="2028.1" cy="2264.6" rx="2.2" ry="1.7" fill="#b5b5b5"/><ellipse cx="2043.3" cy="2246.2" rx="1.2" ry="0.9" fill="#a9a9a9"/><ellipse cx="2016.5" cy="2269.5" rx="2.3" ry="1.9" fill="#9c9c9c"/><ellipse cx="2011.3" cy="2234" rx="30.6" ry="26.3" fill="url(#kg8)"/><ellipse cx="2004.4" cy="2262.5" rx="1.8" ry="1.2" fill="#9f9f9f"/><ellipse cx="1978" cy="2277.7" rx="2.3" ry="1.5" fill="#919191"/><ellipse cx="2033" cy="2269.6" rx="1.5" ry="1.4" fill="#c2c2c2"/><ellipse cx="2023.5" cy="2217.4" rx="1.5" ry="1.2" fill="#aeaeae"/><ellipse cx="2002.4" cy="2241.9" rx="1.8" ry="1.3" fill="#8e8e8e"/><ellipse cx="2002.6" cy="2230.3" rx="2.3" ry="1.7" fill="#ababab"/><ellipse cx="2012.9" cy="2205.3" rx="2.6" ry="2.4" fill="#858585"/></g>
<g filter="url(#fp)"><rect x="2068.7" y="2195" width="85" height="84.7" fill="#000000"/><ellipse cx="2105.7" cy="2261.4" rx="2" ry="1.9" fill="#767676"/><ellipse cx="2117.6" cy="2262.6" rx="1.5" ry="1.5" fill="#bdbdbd"/><ellipse cx="2087.7" cy="2253" rx="2.2" ry="1.6" fill="#989898"/><ellipse cx="2115.6" cy="2261.4" rx="1.9" ry="1.5" fill="#8f8f8f"/><ellipse cx="2144.2" cy="2246.9" rx="1.4" ry="1" fill="#b5b5b5"/><ellipse cx="2130.4" cy="2259.9" rx="2.1" ry="1.9" fill="#b9b9b9"/><ellipse cx="2140.4" cy="2250.6" rx="1.4" ry="1.2" fill="#848484"/><ellipse cx="2132.9" cy="2256.2" rx="2.1" ry="1.7" fill="#b2b2b2"/><ellipse cx="2104.4" cy="2263.1" rx="2" ry="1.6" fill="#919191"/><ellipse cx="2131.2" cy="2257.1" rx="2.3" ry="2" fill="#969696"/><ellipse cx="2102.3" cy="2260.4" rx="2.3" ry="1.9" fill="#8a8a8a"/><ellipse cx="2095.3" cy="2259.1" rx="2" ry="1.5" fill="#bcbcbc"/><ellipse cx="2084.9" cy="2247" rx="1.8" ry="1.3" fill="#777777"/><ellipse cx="2136" cy="2252.5" rx="2.3" ry="2" fill="#9d9d9d"/><ellipse cx="2112.9" cy="2230.6" rx="30.6" ry="24.6" fill="url(#kg9)"/><ellipse cx="2109.9" cy="2254.6" rx="2.2" ry="1.6" fill="#adadad"/><ellipse cx="2144.7" cy="2278.1" rx="1.7" ry="1.1" fill="#cbcbcb"/><ellipse cx="2086.1" cy="2265.9" rx="1.5" ry="1" fill="#9f9f9f"/><ellipse cx="2110.1" cy="2212.2" rx="2.3" ry="2" fill="#cccccc"/><ellipse cx="2072.4" cy="2243.4" rx="2" ry="1.8" fill="#bbbbbb"/><ellipse cx="2141" cy="2237.3" rx="1.8" ry="1.4" fill="#b1b1b1"/><ellipse cx="2113.7" cy="2247" rx="1.8" ry="1.1" fill="#b7b7b7"/><ellipse cx="2137.5" cy="2202" rx="1.8" ry="1.7" fill="#898989"/></g>
<g filter="url(#fp)"><rect x="1969.5" y="2294.8" width="84.6" height="84.4" fill="#000000"/><ellipse cx="1992" cy="2363" rx="1.6" ry="1.4" fill="#afafaf"/><ellipse cx="2036.5" cy="2367.4" rx="1.7" ry="1.6" fill="#c3c3c3"/><ellipse cx="1989.8" cy="2361.7" rx="1.5" ry="1.1" fill="#808080"/><ellipse cx="1995.4" cy="2347.9" rx="2.3" ry="1.5" fill="#c4c4c4"/><ellipse cx="2019.3" cy="2345.5" rx="1.9" ry="1.6" fill="#8b8b8b"/><ellipse cx="2017.5" cy="2319.7" rx="1.6" ry="1" fill="#989898"/><ellipse cx="1980.3" cy="2370.9" rx="1.6" ry="1.5" fill="#dcdcdc"/><ellipse cx="1986.1" cy="2349.3" rx="1.5" ry="1.4" fill="#8c8c8c"/><ellipse cx="2001.3" cy="2364.5" rx="1.6" ry="1.3" fill="#c1c1c1"/><ellipse cx="1977.2" cy="2309.6" rx="1.2" ry="1" fill="#a7a7a7"/></g>
<rect x="2092.4" y="2286.3" width="61.6" height="4.5" fill="#000"/>
<text x="1131.9" y="2231.7" textLength="85.6" lengthAdjust="spacing" class="t">bARG</text>
<text x="1220.5" y="2242.8" font-size="17.5" textLength="28.5" lengthAdjust="spacing" class="t">Ser</text>
<text x="1122.8" y="2264.4" textLength="133.8" lengthAdjust="spacing" class="t">+ axe-txe</text>
<text x="1189.7" y="2323.3" text-anchor="middle" textLength="39" lengthAdjust="spacing" class="t">FP</text>
<text x="1122.8" y="2356.4" textLength="133.8" lengthAdjust="spacing" class="t">+ axe-txe</text>
<rect x="1270.8" y="2394.2" width="240.1" height="26.5" fill="url(#gp2)" stroke="#444" stroke-width="1"/>
<path d="M1307.8,2420.7v-6M1378.4,2420.7v-6M1449,2420.7v-6" fill="none" stroke="#151515" stroke-width="2"/>
<text x="1307.8" y="2450.1" text-anchor="middle" class="t">20</text>
<text x="1378.4" y="2450.1" text-anchor="middle" class="t">40</text>
<text x="1449" y="2450.1" text-anchor="middle" class="t">60</text>
<text x="1506.1" y="2450.1" textLength="37.3" lengthAdjust="spacing" class="t">dB</text>
<g clip-path="url(#ca)"><g filter="url(#fa)"><rect x="39.400000000000006" y="59.400000000000006" width="490.6" height="490.9" fill="#b6b6b6"/><g filter="url(#fb1)"><ellipse cx="345" cy="145" rx="95" ry="45" fill="#747474" opacity="0.45"/><ellipse cx="130" cy="225" rx="55" ry="45" fill="#767676" opacity="0.42"/><ellipse cx="290" cy="330" rx="60" ry="90" fill="#8a8a8a" opacity="0.18"/><ellipse cx="330" cy="430" rx="70" ry="40" fill="#8a8a8a" opacity="0.12"/><ellipse cx="250" cy="200" rx="60" ry="40" fill="#8a8a8a" opacity="0.25"/><ellipse cx="455" cy="380" rx="60" ry="90" fill="#c4c4c4" opacity="0.5"/><ellipse cx="440" cy="240" rx="50" ry="40" fill="#cfcfcf" opacity="0.6"/><ellipse cx="130" cy="150" rx="45" ry="30" fill="#cccccc" opacity="0.6"/><ellipse cx="150" cy="370" rx="60" ry="35" fill="#d0d0d0" opacity="0.7"/><ellipse cx="180" cy="470" rx="50" ry="30" fill="#cccccc" opacity="0.6"/><ellipse cx="320" cy="505" rx="80" ry="25" fill="#c8c8c8" opacity="0.6"/><ellipse cx="120" cy="325" rx="60" ry="18" fill="#d0d0d0" opacity="0.6"/><ellipse cx="480" cy="130" rx="25" ry="60" fill="#c4c4c4" opacity="0.5"/><ellipse cx="220" cy="120" rx="60" ry="30" fill="#b0b0b0" opacity="0.5"/></g><g filter="url(#fb2)"><ellipse cx="121.8" cy="122.2" rx="23.5" ry="18" fill="#e4e4e4" opacity="0.62" transform="rotate(28 121.8 122.2)"/><ellipse cx="466.8" cy="132.3" rx="17.8" ry="28" fill="#e4e4e4" opacity="0.62" transform="rotate(-8 466.8 132.3)"/><ellipse cx="379" cy="229" rx="19" ry="22.5" fill="#e4e4e4" opacity="0.62" transform="rotate(22 379 229)"/><ellipse cx="207.7" cy="270" rx="25" ry="18" fill="#e4e4e4" opacity="0.62" transform="rotate(25 207.7 270)"/><ellipse cx="241.3" cy="285.8" rx="18.5" ry="17.5" fill="#e4e4e4" opacity="0.62" transform="rotate(20 241.3 285.8)"/><ellipse cx="103.3" cy="292.3" rx="28" ry="18.5" fill="#e4e4e4" opacity="0.62" transform="rotate(5 103.3 292.3)"/><ellipse cx="167.6" cy="331.3" rx="24" ry="18" fill="#e4e4e4" opacity="0.62" transform="rotate(15 167.6 331.3)"/><ellipse cx="453.1" cy="303.2" rx="34" ry="18" fill="#e4e4e4" opacity="0.62" transform="rotate(38 453.1 303.2)"/><ellipse cx="155.1" cy="409" rx="18.5" ry="24.5" fill="#e4e4e4" opacity="0.62" transform="rotate(33 155.1 409)"/><ellipse cx="121.8" cy="437.7" rx="25.5" ry="17.8" fill="#e4e4e4" opacity="0.62" transform="rotate(-15 121.8 437.7)"/><ellipse cx="247.8" cy="473.1" rx="18.8" ry="28" fill="#e4e4e4" opacity="0.62" transform="rotate(25 247.8 473.1)"/><ellipse cx="262.3" cy="493.6" rx="15.5" ry="21.5" fill="#e4e4e4" opacity="0.62" transform="rotate(0 262.3 493.6)"/><ellipse cx="101.4" cy="486.8" rx="17" ry="17" fill="#555" opacity="0.85"/><ellipse cx="96.5" cy="444.5" rx="10" ry="7.5" fill="#222" opacity="0.9"/></g><g filter="url(#fb3)"><ellipse cx="121.8" cy="122.2" rx="14.5" ry="9" fill="#0a0a0a" transform="rotate(28 121.8 122.2)"/><ellipse cx="466.8" cy="132.3" rx="8.8" ry="19" fill="#0a0a0a" transform="rotate(-8 466.8 132.3)"/><ellipse cx="379" cy="229" rx="10" ry="13.5" fill="#0a0a0a" transform="rotate(22 379 229)"/><ellipse cx="207.7" cy="270" rx="16" ry="9" fill="#0a0a0a" transform="rotate(25 207.7 270)"/><ellipse cx="241.3" cy="285.8" rx="9.5" ry="8.5" fill="#0a0a0a" transform="rotate(20 241.3 285.8)"/><ellipse cx="103.3" cy="292.3" rx="19" ry="9.5" fill="#0a0a0a" transform="rotate(5 103.3 292.3)"/><ellipse cx="167.6" cy="331.3" rx="15" ry="9" fill="#0a0a0a" transform="rotate(15 167.6 331.3)"/><ellipse cx="453.1" cy="303.2" rx="25" ry="9" fill="#0a0a0a" transform="rotate(38 453.1 303.2)"/><ellipse cx="155.1" cy="409" rx="9.5" ry="15.5" fill="#0a0a0a" transform="rotate(33 155.1 409)"/><ellipse cx="121.8" cy="437.7" rx="16.5" ry="8.8" fill="#0a0a0a" transform="rotate(-15 121.8 437.7)"/><ellipse cx="247.8" cy="473.1" rx="9.8" ry="19" fill="#0a0a0a" transform="rotate(25 247.8 473.1)"/><ellipse cx="262.3" cy="493.6" rx="6.5" ry="12.5" fill="#0a0a0a" transform="rotate(0 262.3 493.6)"/><circle cx="144.2" cy="326.7" r="8.5" fill="#fff"/><circle cx="228.2" cy="281.4" r="5" fill="#fff"/><circle cx="431" cy="285" r="3.5" fill="#fff"/></g><rect x="69.4" y="89.4" width="430.6" height="430.9" fill="none" stroke="#888" stroke-width="3" opacity="0.25"/><rect x="69.4" y="89.4" width="3" height="430.9" fill="#777" opacity="0.3"/></g></g>
<rect x="387.8" y="484.8" width="96.2" height="7.4" fill="#000"/>
</svg>
</body></html>
